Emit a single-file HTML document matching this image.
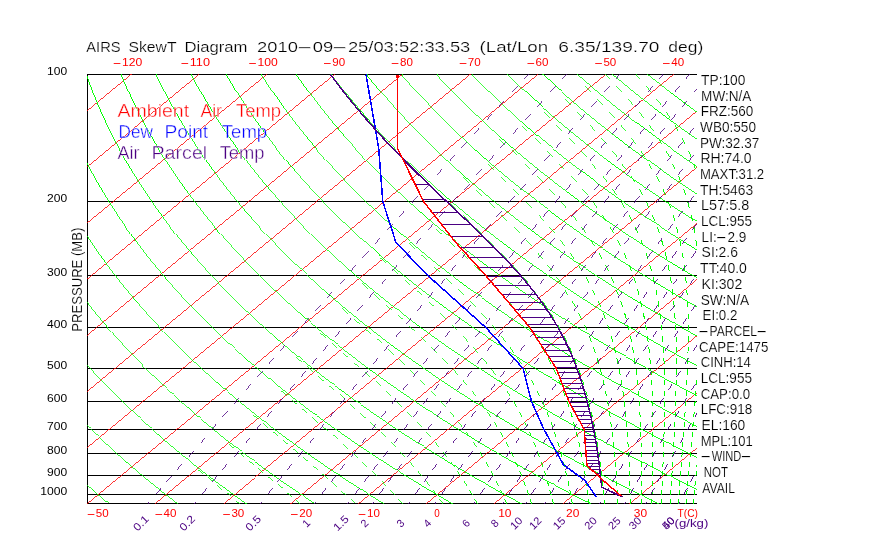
<!DOCTYPE html>
<html><head><meta charset="utf-8"><title>AIRS SkewT Diagram</title>
<style>html,body{margin:0;padding:0;background:#fff}svg{display:block;will-change:transform}</style></head>
<body>
<svg width="870" height="560" viewBox="0 0 870 560" font-family="'Liberation Sans', sans-serif">
<rect width="870" height="560" fill="#fff"/>
<defs><clipPath id="c"><rect x="87" y="74" width="610" height="430"/></clipPath></defs>
<g stroke="#000" stroke-width="1" shape-rendering="crispEdges" fill="none">
<line x1="87" y1="74.5" x2="697" y2="74.5"/>
<line x1="87" y1="201.5" x2="697" y2="201.5"/>
<line x1="87" y1="275.5" x2="697" y2="275.5"/>
<line x1="87" y1="327.5" x2="697" y2="327.5"/>
<line x1="87" y1="368.5" x2="697" y2="368.5"/>
<line x1="87" y1="401.5" x2="697" y2="401.5"/>
<line x1="87" y1="429.5" x2="697" y2="429.5"/>
<line x1="87" y1="453.5" x2="697" y2="453.5"/>
<line x1="87" y1="475.5" x2="697" y2="475.5"/>
<line x1="87" y1="494.5" x2="697" y2="494.5"/>
<line x1="87" y1="503.5" x2="697" y2="503.5"/>
<line x1="87.5" y1="74" x2="87.5" y2="504"/>
</g>
<g clip-path="url(#c)" fill="none" shape-rendering="crispEdges">
<g stroke="#f00" stroke-width="0.80">
<line x1="-457.3" y1="505.5" x2="65.6" y2="72.5"/>
<line x1="-389.5" y1="505.5" x2="133.4" y2="72.5"/>
<line x1="-321.7" y1="505.5" x2="201.2" y2="72.5"/>
<line x1="-253.9" y1="505.5" x2="269.0" y2="72.5"/>
<line x1="-186.1" y1="505.5" x2="336.8" y2="72.5"/>
<line x1="-118.3" y1="505.5" x2="404.6" y2="72.5"/>
<line x1="-50.5" y1="505.5" x2="472.4" y2="72.5"/>
<line x1="17.3" y1="505.5" x2="540.2" y2="72.5"/>
<line x1="85.1" y1="505.5" x2="608.0" y2="72.5"/>
<line x1="152.9" y1="505.5" x2="675.8" y2="72.5"/>
<line x1="220.7" y1="505.5" x2="743.6" y2="72.5"/>
<line x1="288.5" y1="505.5" x2="811.4" y2="72.5"/>
<line x1="356.3" y1="505.5" x2="879.2" y2="72.5"/>
<line x1="424.1" y1="505.5" x2="947.0" y2="72.5"/>
<line x1="491.9" y1="505.5" x2="1014.8" y2="72.5"/>
<line x1="559.7" y1="505.5" x2="1082.6" y2="72.5"/>
<line x1="627.5" y1="505.5" x2="1150.4" y2="72.5"/>
<line x1="695.3" y1="505.5" x2="1218.2" y2="72.5"/>
</g>
<g stroke="#0f0" stroke-width="1">
<path d="M110.7,505.4 L108.6,503.6 L106.5,501.9 L104.4,500.1 L102.3,498.3 L100.2,496.5 L98.1,494.7 L96.0,492.9 L93.8,491.0 L91.7,489.2" stroke="#0f0" stroke-width="0.80"/>
<path d="M93.8,491.0 L91.7,489.2 L89.5,487.3 L87.4,485.4 L85.2,483.4 L83.0,481.5 L80.8,479.5 L78.6,477.5 L76.4,475.5 L74.2,473.5 L72.0,471.4 L69.7,469.3 L67.5,467.2 L65.2,465.1 L62.9,462.9 L60.7,460.7 L58.4,458.5 L56.1,456.3 L53.7,454.0 L51.4,451.7 L49.1,449.4 L46.7,447.0 L44.4,444.6 L42.0,442.2 L39.6,439.8 L37.2,437.3 L34.8,434.8 L32.4,432.2 L30.0,429.6 L27.5,427.0 L25.1,424.3 L22.6,421.6 L20.2,418.9 L17.7,416.1 L15.2,413.3 L12.6,410.4 L10.1,407.5" stroke="#0f0" stroke-width="0.75"/>
<path d="M12.6,410.4 L10.1,407.5 L7.6,404.5 L5.0,401.5 L2.5,398.4 L-0.1,395.3 L-2.7,392.1 L-5.3,388.9 L-7.9,385.6 L-10.6,382.3 L-13.2,378.9 L-15.9,375.4 L-18.5,371.8 L-21.2,368.2 L-23.9,364.5" stroke="#0f0" stroke-width="0.80"/>
<path d="M-21.2,368.2 L-23.9,364.5 L-26.6,360.8 L-29.3,356.9 L-32.1,353.0 L-34.8,349.0 L-37.6,344.9 L-40.4,340.7 L-43.1,336.4 L-45.9,332.0 L-48.7,327.5 L-51.6,322.9 L-54.4,318.1" stroke="#0f0" stroke-width="0.85"/>
<path d="M-51.6,322.9 L-54.4,318.1 L-57.2,313.3 L-60.1,308.3 L-62.9,303.1 L-65.8,297.8 L-68.7,292.4 L-71.5,286.8 L-74.4,281.0 L-77.3,275.0 L-80.2,268.8" stroke="#0f0" stroke-width="0.90"/>
<path d="M-77.3,275.0 L-80.2,268.8 L-83.0,262.4 L-85.9,255.8 L-88.8,248.9 L-91.6,241.7 L-94.4,234.3 L-97.2,226.5 L-100.0,218.4 L-102.7,209.9 L-105.3,201.0" stroke="#0f0" stroke-width="0.95"/>
<path d="M-102.7,209.9 L-105.3,201.0 L-107.9,191.6 L-110.5,181.8 L-112.9,171.3 L-115.2,160.3 L-117.3,148.5 L-119.3,135.9 L-121.1,122.4 L-122.5,107.8 L-123.6,91.9 L-124.3,74.5 L-124.3,55.3" stroke="#0f0" stroke-width="1.00"/>
<path d="M179.6,505.4 L177.4,503.6 L175.1,501.9 L172.8,500.1 L170.5,498.3 L168.2,496.5 L165.9,494.7 L163.6,492.9 L161.2,491.0 L158.9,489.2 L156.5,487.3 L154.2,485.4 L151.8,483.4 L149.4,481.5 L147.0,479.5 L144.6,477.5 L142.2,475.5 L139.8,473.5 L137.3,471.4 L134.9,469.3 L132.4,467.2 L129.9,465.1 L127.4,462.9 L124.9,460.7" stroke="#0f0" stroke-width="0.80"/>
<path d="M127.4,462.9 L124.9,460.7 L122.4,458.5 L119.9,456.3 L117.3,454.0 L114.8,451.7 L112.2,449.4 L109.6,447.0 L107.1,444.6 L104.4,442.2 L101.8,439.8 L99.2,437.3 L96.5,434.8 L93.9,432.2 L91.2,429.6 L88.5,427.0 L85.8,424.3 L83.1,421.6 L80.4,418.9 L77.6,416.1 L74.8,413.3 L72.1,410.4 L69.3,407.5 L66.4,404.5 L63.6,401.5 L60.8,398.4 L57.9,395.3 L55.0,392.1 L52.1,388.9 L49.2,385.6 L46.3,382.3 L43.3,378.9" stroke="#0f0" stroke-width="0.75"/>
<path d="M46.3,382.3 L43.3,378.9 L40.4,375.4 L37.4,371.8 L34.4,368.2 L31.4,364.5 L28.3,360.8 L25.3,356.9 L22.2,353.0 L19.1,349.0 L16.0,344.9 L12.9,340.7 L9.8,336.4" stroke="#0f0" stroke-width="0.80"/>
<path d="M12.9,340.7 L9.8,336.4 L6.6,332.0 L3.4,327.5 L0.2,322.9 L-3.0,318.1 L-6.2,313.3 L-9.5,308.3 L-12.7,303.1 L-16.0,297.8 L-19.3,292.4" stroke="#0f0" stroke-width="0.85"/>
<path d="M-16.0,297.8 L-19.3,292.4 L-22.6,286.8 L-25.9,281.0 L-29.2,275.0 L-32.6,268.8 L-35.9,262.4 L-39.3,255.8 L-42.6,248.9 L-46.0,241.7" stroke="#0f0" stroke-width="0.90"/>
<path d="M-42.6,248.9 L-46.0,241.7 L-49.3,234.3 L-52.7,226.5 L-56.0,218.4 L-59.3,209.9 L-62.5,201.0 L-65.8,191.6 L-68.9,181.8 L-72.0,171.3" stroke="#0f0" stroke-width="0.95"/>
<path d="M-68.9,181.8 L-72.0,171.3 L-75.0,160.3 L-77.9,148.5 L-80.7,135.9 L-83.2,122.4 L-85.6,107.8 L-87.6,91.9 L-89.2,74.5 L-90.2,55.3" stroke="#0f0" stroke-width="1.00"/>
<path d="M248.6,505.4 L246.1,503.6 L243.7,501.9 L241.2,500.1 L238.7,498.3 L236.2,496.5 L233.7,494.7 L231.2,492.9 L228.7,491.0 L226.1,489.2 L223.6,487.3" stroke="#0f0" stroke-width="0.85"/>
<path d="M226.1,489.2 L223.6,487.3 L221.0,485.4 L218.4,483.4 L215.8,481.5 L213.2,479.5 L210.6,477.5 L208.0,475.5 L205.3,473.5 L202.7,471.4 L200.0,469.3 L197.3,467.2 L194.6,465.1 L191.9,462.9 L189.2,460.7 L186.5,458.5 L183.7,456.3 L181.0,454.0 L178.2,451.7 L175.4,449.4 L172.6,447.0 L169.7,444.6 L166.9,442.2 L164.0,439.8 L161.2,437.3 L158.3,434.8" stroke="#0f0" stroke-width="0.80"/>
<path d="M161.2,437.3 L158.3,434.8 L155.4,432.2 L152.4,429.6 L149.5,427.0 L146.5,424.3 L143.6,421.6 L140.6,418.9 L137.5,416.1 L134.5,413.3 L131.5,410.4 L128.4,407.5 L125.3,404.5 L122.2,401.5 L119.1,398.4 L115.9,395.3 L112.8,392.1 L109.6,388.9 L106.4,385.6 L103.1,382.3 L99.9,378.9 L96.6,375.4 L93.3,371.8 L90.0,368.2 L86.7,364.5 L83.3,360.8 L79.9,356.9 L76.5,353.0" stroke="#0f0" stroke-width="0.75"/>
<path d="M79.9,356.9 L76.5,353.0 L73.1,349.0 L69.6,344.9 L66.2,340.7 L62.7,336.4 L59.1,332.0 L55.6,327.5 L52.0,322.9 L48.4,318.1 L44.8,313.3 L41.2,308.3" stroke="#0f0" stroke-width="0.80"/>
<path d="M44.8,313.3 L41.2,308.3 L37.5,303.1 L33.8,297.8 L30.1,292.4 L26.3,286.8 L22.6,281.0 L18.8,275.0 L15.0,268.8 L11.2,262.4" stroke="#0f0" stroke-width="0.85"/>
<path d="M15.0,268.8 L11.2,262.4 L7.3,255.8 L3.5,248.9 L-0.4,241.7 L-4.2,234.3 L-8.1,226.5 L-12.0,218.4 L-15.9,209.9" stroke="#0f0" stroke-width="0.90"/>
<path d="M-12.0,218.4 L-15.9,209.9 L-19.8,201.0 L-23.6,191.6 L-27.4,181.8 L-31.2,171.3 L-34.9,160.3 L-38.5,148.5" stroke="#0f0" stroke-width="0.95"/>
<path d="M-34.9,160.3 L-38.5,148.5 L-42.0,135.9 L-45.4,122.4 L-48.6,107.8 L-51.5,91.9 L-54.1,74.5 L-56.2,55.3" stroke="#0f0" stroke-width="1.00"/>
<path d="M317.5,505.4 L314.9,503.6 L312.2,501.9 L309.6,500.1 L306.9,498.3 L304.2,496.5 L301.5,494.7 L298.8,492.9 L296.1,491.0 L293.3,489.2 L290.6,487.3 L287.8,485.4 L285.0,483.4 L282.2,481.5 L279.4,479.5 L276.6,477.5 L273.8,475.5 L270.9,473.5 L268.1,471.4 L265.2,469.3 L262.3,467.2 L259.4,465.1 L256.4,462.9" stroke="#0f0" stroke-width="0.85"/>
<path d="M259.4,465.1 L256.4,462.9 L253.5,460.7 L250.5,458.5 L247.6,456.3 L244.6,454.0 L241.6,451.7 L238.5,449.4 L235.5,447.0 L232.4,444.6 L229.3,442.2 L226.2,439.8 L223.1,437.3 L220.0,434.8 L216.8,432.2 L213.7,429.6 L210.5,427.0 L207.3,424.3 L204.0,421.6 L200.8,418.9 L197.5,416.1 L194.2,413.3 L190.9,410.4 L187.5,407.5" stroke="#0f0" stroke-width="0.80"/>
<path d="M190.9,410.4 L187.5,407.5 L184.2,404.5 L180.8,401.5 L177.4,398.4 L173.9,395.3 L170.5,392.1 L167.0,388.9 L163.5,385.6 L160.0,382.3 L156.4,378.9 L152.9,375.4 L149.2,371.8 L145.6,368.2 L142.0,364.5 L138.3,360.8 L134.6,356.9 L130.8,353.0 L127.0,349.0 L123.3,344.9 L119.4,340.7 L115.6,336.4 L111.7,332.0 L107.8,327.5 L103.8,322.9" stroke="#0f0" stroke-width="0.75"/>
<path d="M107.8,327.5 L103.8,322.9 L99.8,318.1 L95.8,313.3 L91.8,308.3 L87.7,303.1 L83.6,297.8 L79.5,292.4 L75.3,286.8 L71.1,281.0" stroke="#0f0" stroke-width="0.80"/>
<path d="M75.3,286.8 L71.1,281.0 L66.9,275.0 L62.6,268.8 L58.3,262.4 L54.0,255.8 L49.6,248.9 L45.2,241.7 L40.8,234.3" stroke="#0f0" stroke-width="0.85"/>
<path d="M45.2,241.7 L40.8,234.3 L36.4,226.5 L32.0,218.4 L27.5,209.9 L23.0,201.0 L18.6,191.6 L14.1,181.8" stroke="#0f0" stroke-width="0.90"/>
<path d="M18.6,191.6 L14.1,181.8 L9.7,171.3 L5.2,160.3 L0.9,148.5 L-3.4,135.9 L-7.6,122.4" stroke="#0f0" stroke-width="0.95"/>
<path d="M-3.4,135.9 L-7.6,122.4 L-11.6,107.8 L-15.4,91.9 L-19.0,74.5 L-22.1,55.3" stroke="#0f0" stroke-width="1.00"/>
<path d="M386.4,505.4 L383.6,503.6 L380.8,501.9 L377.9,500.1 L375.1,498.3 L372.2,496.5 L369.3,494.7 L366.4,492.9 L363.5,491.0 L360.5,489.2 L357.6,487.3 L354.6,485.4 L351.6,483.4 L348.6,481.5 L345.6,479.5 L342.6,477.5 L339.6,475.5 L336.5,473.5 L333.4,471.4 L330.3,469.3 L327.2,467.2 L324.1,465.1 L320.9,462.9 L317.8,460.7 L314.6,458.5 L311.4,456.3 L308.2,454.0 L304.9,451.7 L301.7,449.4 L298.4,447.0 L295.1,444.6 L291.8,442.2 L288.4,439.8 L285.1,437.3" stroke="#0f0" stroke-width="0.85"/>
<path d="M288.4,439.8 L285.1,437.3 L281.7,434.8 L278.3,432.2 L274.9,429.6 L271.4,427.0 L268.0,424.3 L264.5,421.6 L261.0,418.9 L257.4,416.1 L253.9,413.3 L250.3,410.4 L246.7,407.5 L243.0,404.5 L239.4,401.5 L235.7,398.4 L232.0,395.3 L228.2,392.1 L224.5,388.9 L220.7,385.6 L216.8,382.3" stroke="#0f0" stroke-width="0.80"/>
<path d="M220.7,385.6 L216.8,382.3 L213.0,378.9 L209.1,375.4 L205.2,371.8 L201.2,368.2 L197.2,364.5 L193.2,360.8 L189.2,356.9 L185.1,353.0 L181.0,349.0 L176.9,344.9 L172.7,340.7 L168.5,336.4 L164.2,332.0 L159.9,327.5 L155.6,322.9 L151.2,318.1 L146.8,313.3 L142.4,308.3 L137.9,303.1 L133.4,297.8" stroke="#0f0" stroke-width="0.75"/>
<path d="M137.9,303.1 L133.4,297.8 L128.8,292.4 L124.2,286.8 L119.6,281.0 L114.9,275.0 L110.2,268.8 L105.4,262.4 L100.6,255.8" stroke="#0f0" stroke-width="0.80"/>
<path d="M105.4,262.4 L100.6,255.8 L95.7,248.9 L90.8,241.7 L85.9,234.3 L80.9,226.5 L75.9,218.4 L70.9,209.9" stroke="#0f0" stroke-width="0.85"/>
<path d="M75.9,218.4 L70.9,209.9 L65.8,201.0 L60.7,191.6 L55.6,181.8 L50.5,171.3 L45.4,160.3" stroke="#0f0" stroke-width="0.90"/>
<path d="M50.5,171.3 L45.4,160.3 L40.3,148.5 L35.2,135.9 L30.2,122.4 L25.4,107.8 L20.6,91.9" stroke="#0f0" stroke-width="0.95"/>
<path d="M25.4,107.8 L20.6,91.9 L16.1,74.5 L11.9,55.3" stroke="#0f0" stroke-width="1.00"/>
<path d="M455.4,505.4 L452.4,503.6 L449.3,501.9 L446.3,500.1 L443.3,498.3 L440.2,496.5 L437.1,494.7 L434.0,492.9 L430.9,491.0 L427.8,489.2 L424.6,487.3 L421.4,485.4 L418.3,483.4" stroke="#0f0" stroke-width="0.90"/>
<path d="M421.4,485.4 L418.3,483.4 L415.1,481.5 L411.8,479.5 L408.6,477.5 L405.3,475.5 L402.1,473.5 L398.8,471.4 L395.5,469.3 L392.2,467.2 L388.8,465.1 L385.4,462.9 L382.1,460.7 L378.7,458.5 L375.2,456.3 L371.8,454.0 L368.3,451.7 L364.8,449.4 L361.3,447.0 L357.8,444.6 L354.2,442.2 L350.7,439.8 L347.1,437.3 L343.4,434.8 L339.8,432.2 L336.1,429.6 L332.4,427.0 L328.7,424.3 L324.9,421.6 L321.2,418.9 L317.4,416.1 L313.5,413.3" stroke="#0f0" stroke-width="0.85"/>
<path d="M317.4,416.1 L313.5,413.3 L309.7,410.4 L305.8,407.5 L301.9,404.5 L298.0,401.5 L294.0,398.4 L290.0,395.3 L286.0,392.1 L281.9,388.9 L277.8,385.6 L273.7,382.3 L269.5,378.9 L265.3,375.4 L261.1,371.8 L256.8,368.2 L252.5,364.5 L248.2,360.8 L243.8,356.9" stroke="#0f0" stroke-width="0.80"/>
<path d="M248.2,360.8 L243.8,356.9 L239.4,353.0 L235.0,349.0 L230.5,344.9 L225.9,340.7 L221.4,336.4 L216.8,332.0 L212.1,327.5 L207.4,322.9 L202.7,318.1 L197.9,313.3 L193.0,308.3 L188.1,303.1 L183.2,297.8 L178.2,292.4 L173.2,286.8 L168.1,281.0 L163.0,275.0" stroke="#0f0" stroke-width="0.75"/>
<path d="M168.1,281.0 L163.0,275.0 L157.8,268.8 L152.5,262.4 L147.2,255.8 L141.9,248.9 L136.4,241.7 L131.0,234.3" stroke="#0f0" stroke-width="0.80"/>
<path d="M136.4,241.7 L131.0,234.3 L125.5,226.5 L119.9,218.4 L114.3,209.9 L108.6,201.0 L102.9,191.6 L97.1,181.8" stroke="#0f0" stroke-width="0.85"/>
<path d="M102.9,191.6 L97.1,181.8 L91.3,171.3 L85.5,160.3 L79.7,148.5 L73.9,135.9" stroke="#0f0" stroke-width="0.90"/>
<path d="M79.7,148.5 L73.9,135.9 L68.1,122.4 L62.3,107.8 L56.7,91.9 L51.2,74.5 L46.0,55.3" stroke="#0f0" stroke-width="0.95"/>
<path d="M51.2,74.5 L46.0,55.3" stroke="#0f0" stroke-width="1.00"/>
<path d="M524.3,505.4 L521.1,503.6 L517.9,501.9 L514.7,500.1 L511.4,498.3 L508.2,496.5 L504.9,494.7 L501.6,492.9 L498.3,491.0 L495.0,489.2 L491.6,487.3 L488.2,485.4 L484.9,483.4 L481.5,481.5 L478.0,479.5 L474.6,477.5 L471.1,475.5 L467.7,473.5 L464.2,471.4 L460.6,469.3 L457.1,467.2 L453.5,465.1 L449.9,462.9 L446.3,460.7 L442.7,458.5" stroke="#0f0" stroke-width="0.90"/>
<path d="M446.3,460.7 L442.7,458.5 L439.1,456.3 L435.4,454.0 L431.7,451.7 L428.0,449.4 L424.2,447.0 L420.5,444.6 L416.7,442.2 L412.9,439.8 L409.0,437.3 L405.1,434.8 L401.3,432.2 L397.3,429.6 L393.4,427.0 L389.4,424.3 L385.4,421.6 L381.4,418.9 L377.3,416.1 L373.2,413.3 L369.1,410.4 L364.9,407.5 L360.8,404.5 L356.5,401.5 L352.3,398.4 L348.0,395.3 L343.7,392.1 L339.3,388.9" stroke="#0f0" stroke-width="0.85"/>
<path d="M343.7,392.1 L339.3,388.9 L334.9,385.6 L330.5,382.3 L326.1,378.9 L321.6,375.4 L317.0,371.8 L312.4,368.2 L307.8,364.5 L303.2,360.8 L298.5,356.9 L293.7,353.0 L288.9,349.0 L284.1,344.9 L279.2,340.7 L274.3,336.4" stroke="#0f0" stroke-width="0.80"/>
<path d="M279.2,340.7 L274.3,336.4 L269.3,332.0 L264.3,327.5 L259.2,322.9 L254.1,318.1 L248.9,313.3 L243.6,308.3 L238.3,303.1 L233.0,297.8 L227.6,292.4 L222.1,286.8 L216.6,281.0 L211.0,275.0 L205.3,268.8 L199.6,262.4 L193.8,255.8 L188.0,248.9" stroke="#0f0" stroke-width="0.75"/>
<path d="M193.8,255.8 L188.0,248.9 L182.1,241.7 L176.1,234.3 L170.0,226.5 L163.9,218.4 L157.7,209.9" stroke="#0f0" stroke-width="0.80"/>
<path d="M163.9,218.4 L157.7,209.9 L151.4,201.0 L145.1,191.6 L138.7,181.8 L132.2,171.3 L125.7,160.3" stroke="#0f0" stroke-width="0.85"/>
<path d="M132.2,171.3 L125.7,160.3 L119.1,148.5 L112.5,135.9 L105.9,122.4 L99.3,107.8" stroke="#0f0" stroke-width="0.90"/>
<path d="M105.9,122.4 L99.3,107.8 L92.7,91.9 L86.3,74.5 L80.0,55.3" stroke="#0f0" stroke-width="0.95"/>
<path d="M593.3,505.4 L589.9,503.6 L586.5,501.9 L583.1,500.1 L579.6,498.3 L576.2,496.5 L572.7,494.7 L569.2,492.9 L565.7,491.0 L562.2,489.2 L558.6,487.3 L555.1,485.4 L551.5,483.4 L547.9,481.5 L544.2,479.5 L540.6,477.5 L536.9,475.5 L533.2,473.5 L529.5,471.4 L525.8,469.3 L522.0,467.2 L518.3,465.1 L514.4,462.9 L510.6,460.7 L506.8,458.5 L502.9,456.3 L499.0,454.0 L495.1,451.7 L491.1,449.4 L487.1,447.0 L483.1,444.6 L479.1,442.2 L475.1,439.8 L471.0,437.3" stroke="#0f0" stroke-width="0.90"/>
<path d="M475.1,439.8 L471.0,437.3 L466.9,434.8 L462.7,432.2 L458.6,429.6 L454.4,427.0 L450.1,424.3 L445.9,421.6 L441.6,418.9 L437.2,416.1 L432.9,413.3 L428.5,410.4 L424.1,407.5 L419.6,404.5 L415.1,401.5 L410.6,398.4 L406.0,395.3 L401.4,392.1 L396.8,388.9 L392.1,385.6 L387.4,382.3 L382.6,378.9 L377.8,375.4 L372.9,371.8 L368.0,368.2" stroke="#0f0" stroke-width="0.85"/>
<path d="M372.9,371.8 L368.0,368.2 L363.1,364.5 L358.1,360.8 L353.1,356.9 L348.0,353.0 L342.9,349.0 L337.7,344.9 L332.5,340.7 L327.2,336.4 L321.8,332.0 L316.4,327.5 L311.0,322.9 L305.5,318.1 L299.9,313.3" stroke="#0f0" stroke-width="0.80"/>
<path d="M305.5,318.1 L299.9,313.3 L294.3,308.3 L288.6,303.1 L282.8,297.8 L277.0,292.4 L271.1,286.8 L265.1,281.0 L259.0,275.0 L252.9,268.8 L246.7,262.4 L240.5,255.8 L234.1,248.9 L227.7,241.7 L221.1,234.3 L214.5,226.5" stroke="#0f0" stroke-width="0.75"/>
<path d="M221.1,234.3 L214.5,226.5 L207.8,218.4 L201.1,209.9 L194.2,201.0 L187.2,191.6 L180.2,181.8" stroke="#0f0" stroke-width="0.80"/>
<path d="M187.2,191.6 L180.2,181.8 L173.0,171.3 L165.8,160.3 L158.5,148.5 L151.1,135.9" stroke="#0f0" stroke-width="0.85"/>
<path d="M158.5,148.5 L151.1,135.9 L143.7,122.4 L136.3,107.8 L128.8,91.9" stroke="#0f0" stroke-width="0.90"/>
<path d="M136.3,107.8 L128.8,91.9 L121.4,74.5 L114.1,55.3" stroke="#0f0" stroke-width="0.95"/>
<path d="M662.2,505.4 L658.6,503.6 L655.0,501.9 L651.4,500.1 L647.8,498.3 L644.2,496.5 L640.5,494.7 L636.8,492.9 L633.1,491.0 L629.4,489.2 L625.6,487.3 L621.9,485.4 L618.1,483.4 L614.3,481.5 L610.4,479.5 L606.6,477.5 L602.7,475.5 L598.8,473.5 L594.9,471.4 L590.9,469.3 L587.0,467.2 L583.0,465.1 L578.9,462.9 L574.9,460.7 L570.8,458.5 L566.7,456.3 L562.6,454.0 L558.5,451.7 L554.3,449.4 L550.1,447.0 L545.8,444.6 L541.6,442.2 L537.3,439.8 L532.9,437.3 L528.6,434.8 L524.2,432.2 L519.8,429.6 L515.3,427.0 L510.8,424.3 L506.3,421.6 L501.8,418.9 L497.2,416.1" stroke="#0f0" stroke-width="0.90"/>
<path d="M501.8,418.9 L497.2,416.1 L492.6,413.3 L487.9,410.4 L483.2,407.5 L478.5,404.5 L473.7,401.5 L468.9,398.4 L464.0,395.3 L459.1,392.1 L454.2,388.9 L449.2,385.6 L444.2,382.3 L439.1,378.9 L434.0,375.4 L428.9,371.8 L423.7,368.2 L418.4,364.5 L413.1,360.8 L407.7,356.9 L402.3,353.0 L396.8,349.0 L391.3,344.9" stroke="#0f0" stroke-width="0.85"/>
<path d="M396.8,349.0 L391.3,344.9 L385.7,340.7 L380.1,336.4 L374.4,332.0 L368.6,327.5 L362.8,322.9 L356.9,318.1 L350.9,313.3 L344.9,308.3 L338.8,303.1 L332.6,297.8 L326.3,292.4" stroke="#0f0" stroke-width="0.80"/>
<path d="M332.6,297.8 L326.3,292.4 L320.0,286.8 L313.6,281.0 L307.1,275.0 L300.5,268.8 L293.8,262.4 L287.1,255.8 L280.2,248.9 L273.3,241.7 L266.2,234.3 L259.1,226.5 L251.8,218.4 L244.4,209.9" stroke="#0f0" stroke-width="0.75"/>
<path d="M251.8,218.4 L244.4,209.9 L237.0,201.0 L229.4,191.6 L221.7,181.8 L213.9,171.3 L206.0,160.3" stroke="#0f0" stroke-width="0.80"/>
<path d="M213.9,171.3 L206.0,160.3 L197.9,148.5 L189.8,135.9 L181.6,122.4 L173.2,107.8" stroke="#0f0" stroke-width="0.85"/>
<path d="M181.6,122.4 L173.2,107.8 L164.9,91.9 L156.5,74.5 L148.1,55.3" stroke="#0f0" stroke-width="0.90"/>
<path d="M156.5,74.5 L148.1,55.3" stroke="#0f0" stroke-width="0.95"/>
<path d="M731.1,505.4 L727.4,503.6 L723.6,501.9 L719.8,500.1 L716.0,498.3 L712.2,496.5 L708.3,494.7" stroke="#0f0" stroke-width="0.95"/>
<path d="M712.2,496.5 L708.3,494.7 L704.4,492.9 L700.5,491.0 L696.6,489.2 L692.7,487.3 L688.7,485.4 L684.7,483.4 L680.7,481.5 L676.6,479.5 L672.6,477.5 L668.5,475.5 L664.4,473.5 L660.3,471.4 L656.1,469.3 L651.9,467.2 L647.7,465.1 L643.5,462.9 L639.2,460.7 L634.9,458.5 L630.6,456.3 L626.2,454.0 L621.8,451.7 L617.4,449.4 L613.0,447.0 L608.5,444.6 L604.0,442.2 L599.5,439.8 L594.9,437.3 L590.3,434.8 L585.7,432.2 L581.0,429.6 L576.3,427.0 L571.6,424.3 L566.8,421.6 L562.0,418.9 L557.1,416.1 L552.2,413.3 L547.3,410.4 L542.3,407.5 L537.3,404.5 L532.3,401.5 L527.2,398.4 L522.1,395.3" stroke="#0f0" stroke-width="0.90"/>
<path d="M527.2,398.4 L522.1,395.3 L516.9,392.1 L511.7,388.9 L506.4,385.6 L501.1,382.3 L495.7,378.9 L490.3,375.4 L484.8,371.8 L479.3,368.2 L473.7,364.5 L468.0,360.8 L462.4,356.9 L456.6,353.0 L450.8,349.0 L444.9,344.9 L439.0,340.7 L433.0,336.4 L426.9,332.0 L420.8,327.5 L414.6,322.9" stroke="#0f0" stroke-width="0.85"/>
<path d="M420.8,327.5 L414.6,322.9 L408.3,318.1 L401.9,313.3 L395.5,308.3 L389.0,303.1 L382.4,297.8 L375.7,292.4 L369.0,286.8 L362.1,281.0 L355.1,275.0 L348.1,268.8" stroke="#0f0" stroke-width="0.80"/>
<path d="M355.1,275.0 L348.1,268.8 L341.0,262.4 L333.7,255.8 L326.3,248.9 L318.9,241.7 L311.3,234.3 L303.6,226.5 L295.8,218.4 L287.8,209.9 L279.8,201.0 L271.6,191.6 L263.2,181.8" stroke="#0f0" stroke-width="0.75"/>
<path d="M271.6,191.6 L263.2,181.8 L254.7,171.3 L246.1,160.3 L237.3,148.5 L228.4,135.9" stroke="#0f0" stroke-width="0.80"/>
<path d="M237.3,148.5 L228.4,135.9 L219.4,122.4 L210.2,107.8 L200.9,91.9" stroke="#0f0" stroke-width="0.85"/>
<path d="M210.2,107.8 L200.9,91.9 L191.6,74.5 L182.2,55.3" stroke="#0f0" stroke-width="0.90"/>
<path d="M800.1,505.4 L796.1,503.6 L792.2,501.9 L788.2,500.1 L784.2,498.3 L780.2,496.5 L776.1,494.7 L772.0,492.9 L767.9,491.0 L763.8,489.2 L759.7,487.3 L755.5,485.4 L751.3,483.4 L747.1,481.5 L742.8,479.5 L738.6,477.5 L734.3,475.5 L730.0,473.5" stroke="#0f0" stroke-width="0.95"/>
<path d="M734.3,475.5 L730.0,473.5 L725.6,471.4 L721.2,469.3 L716.8,467.2 L712.4,465.1 L708.0,462.9 L703.5,460.7 L698.9,458.5 L694.4,456.3 L689.8,454.0 L685.2,451.7 L680.6,449.4 L675.9,447.0 L671.2,444.6 L666.5,442.2 L661.7,439.8 L656.9,437.3 L652.0,434.8 L647.1,432.2 L642.2,429.6 L637.3,427.0 L632.3,424.3 L627.3,421.6 L622.2,418.9 L617.1,416.1 L611.9,413.3 L606.7,410.4 L601.5,407.5 L596.2,404.5 L590.9,401.5 L585.5,398.4 L580.1,395.3 L574.6,392.1 L569.1,388.9 L563.5,385.6 L557.9,382.3 L552.2,378.9 L546.5,375.4" stroke="#0f0" stroke-width="0.90"/>
<path d="M552.2,378.9 L546.5,375.4 L540.7,371.8 L534.9,368.2 L529.0,364.5 L523.0,360.8 L517.0,356.9 L510.9,353.0 L504.7,349.0 L498.5,344.9 L492.2,340.7 L485.9,336.4 L479.5,332.0 L472.9,327.5 L466.4,322.9 L459.7,318.1 L453.0,313.3 L446.1,308.3 L439.2,303.1" stroke="#0f0" stroke-width="0.85"/>
<path d="M446.1,308.3 L439.2,303.1 L432.2,297.8 L425.1,292.4 L417.9,286.8 L410.6,281.0 L403.2,275.0 L395.7,268.8 L388.1,262.4 L380.3,255.8 L372.5,248.9" stroke="#0f0" stroke-width="0.80"/>
<path d="M380.3,255.8 L372.5,248.9 L364.5,241.7 L356.4,234.3 L348.1,226.5 L339.8,218.4 L331.2,209.9 L322.5,201.0 L313.7,191.6 L304.7,181.8 L295.6,171.3 L286.2,160.3" stroke="#0f0" stroke-width="0.75"/>
<path d="M295.6,171.3 L286.2,160.3 L276.7,148.5 L267.1,135.9 L257.2,122.4" stroke="#0f0" stroke-width="0.80"/>
<path d="M267.1,135.9 L257.2,122.4 L247.2,107.8 L237.0,91.9 L226.7,74.5" stroke="#0f0" stroke-width="0.85"/>
<path d="M237.0,91.9 L226.7,74.5 L216.2,55.3" stroke="#0f0" stroke-width="0.90"/>
<path d="M869.0,505.4 L864.9,503.6 L860.7,501.9 L856.6,500.1 L852.4,498.3 L848.1,496.5 L843.9,494.7 L839.6,492.9 L835.3,491.0 L831.0,489.2 L826.7,487.3 L822.3,485.4 L817.9,483.4 L813.5,481.5 L809.0,479.5 L804.6,477.5 L800.1,475.5 L795.5,473.5 L791.0,471.4 L786.4,469.3 L781.8,467.2 L777.1,465.1 L772.5,462.9 L767.7,460.7 L763.0,458.5 L758.2,456.3 L753.4,454.0" stroke="#0f0" stroke-width="0.95"/>
<path d="M758.2,456.3 L753.4,454.0 L748.6,451.7 L743.7,449.4 L738.8,447.0 L733.9,444.6 L728.9,442.2 L723.9,439.8 L718.8,437.3 L713.7,434.8 L708.6,432.2 L703.5,429.6 L698.3,427.0 L693.0,424.3 L687.7,421.6 L682.4,418.9 L677.0,416.1 L671.6,413.3 L666.1,410.4 L660.6,407.5 L655.1,404.5 L649.5,401.5 L643.8,398.4 L638.1,395.3 L632.3,392.1 L626.5,388.9 L620.7,385.6 L614.7,382.3 L608.8,378.9 L602.7,375.4 L596.6,371.8 L590.5,368.2 L584.3,364.5 L578.0,360.8 L571.6,356.9 L565.2,353.0" stroke="#0f0" stroke-width="0.90"/>
<path d="M571.6,356.9 L565.2,353.0 L558.7,349.0 L552.1,344.9 L545.5,340.7 L538.8,336.4 L532.0,332.0 L525.1,327.5 L518.2,322.9 L511.1,318.1 L504.0,313.3 L496.7,308.3 L489.4,303.1 L482.0,297.8 L474.5,292.4 L466.8,286.8 L459.1,281.0" stroke="#0f0" stroke-width="0.85"/>
<path d="M466.8,286.8 L459.1,281.0 L451.2,275.0 L443.3,268.8 L435.2,262.4 L427.0,255.8 L418.6,248.9 L410.1,241.7 L401.5,234.3 L392.7,226.5" stroke="#0f0" stroke-width="0.80"/>
<path d="M401.5,234.3 L392.7,226.5 L383.7,218.4 L374.6,209.9 L365.3,201.0 L355.9,191.6 L346.2,181.8 L336.4,171.3 L326.4,160.3 L316.2,148.5 L305.7,135.9" stroke="#0f0" stroke-width="0.75"/>
<path d="M316.2,148.5 L305.7,135.9 L295.0,122.4 L284.2,107.8 L273.1,91.9" stroke="#0f0" stroke-width="0.80"/>
<path d="M284.2,107.8 L273.1,91.9 L261.8,74.5 L250.3,55.3" stroke="#0f0" stroke-width="0.85"/>
<path d="M261.8,74.5 L250.3,55.3" stroke="#0f0" stroke-width="0.90"/>
<path d="M938.0,505.4 L933.6,503.6 L929.3,501.9 L924.9,500.1 L920.6,498.3 L916.1,496.5 L911.7,494.7 L907.2,492.9 L902.7,491.0 L898.2,489.2 L893.7,487.3 L889.1,485.4 L884.5,483.4 L879.9,481.5 L875.3,479.5 L870.6,477.5 L865.9,475.5 L861.1,473.5 L856.4,471.4 L851.5,469.3 L846.7,467.2 L841.9,465.1 L837.0,462.9 L832.0,460.7 L827.1,458.5 L822.1,456.3 L817.0,454.0 L812.0,451.7 L806.9,449.4 L801.7,447.0 L796.6,444.6 L791.3,442.2 L786.1,439.8 L780.8,437.3 L775.5,434.8" stroke="#0f0" stroke-width="0.95"/>
<path d="M780.8,437.3 L775.5,434.8 L770.1,432.2 L764.7,429.6 L759.2,427.0 L753.7,424.3 L748.2,421.6 L742.6,418.9 L737.0,416.1 L731.3,413.3 L725.5,410.4 L719.8,407.5 L713.9,404.5 L708.0,401.5 L702.1,398.4 L696.1,395.3 L690.1,392.1 L684.0,388.9 L677.8,385.6 L671.6,382.3 L665.3,378.9 L659.0,375.4 L652.6,371.8 L646.1,368.2 L639.5,364.5 L632.9,360.8 L626.3,356.9 L619.5,353.0 L612.7,349.0 L605.8,344.9 L598.8,340.7 L591.7,336.4" stroke="#0f0" stroke-width="0.90"/>
<path d="M598.8,340.7 L591.7,336.4 L584.5,332.0 L577.3,327.5 L570.0,322.9 L562.5,318.1 L555.0,313.3 L547.4,308.3 L539.6,303.1 L531.8,297.8 L523.9,292.4 L515.8,286.8 L507.6,281.0 L499.3,275.0 L490.9,268.8 L482.3,262.4" stroke="#0f0" stroke-width="0.85"/>
<path d="M490.9,268.8 L482.3,262.4 L473.6,255.8 L464.7,248.9 L455.7,241.7 L446.5,234.3 L437.2,226.5 L427.7,218.4 L418.0,209.9" stroke="#0f0" stroke-width="0.80"/>
<path d="M427.7,218.4 L418.0,209.9 L408.1,201.0 L398.0,191.6 L387.8,181.8 L377.3,171.3 L366.5,160.3 L355.6,148.5 L344.3,135.9 L332.9,122.4" stroke="#0f0" stroke-width="0.75"/>
<path d="M344.3,135.9 L332.9,122.4 L321.1,107.8 L309.1,91.9 L296.9,74.5" stroke="#0f0" stroke-width="0.80"/>
<path d="M309.1,91.9 L296.9,74.5 L284.3,55.3" stroke="#0f0" stroke-width="0.85"/>
<path d="M1006.9,505.4 L1002.4,503.6 L997.9,501.9 L993.3,500.1 L988.7,498.3 L984.1,496.5 L979.5,494.7 L974.8,492.9 L970.2,491.0 L965.4,489.2 L960.7,487.3 L955.9,485.4 L951.1,483.4 L946.3,481.5 L941.5,479.5 L936.6,477.5 L931.6,475.5 L926.7,473.5 L921.7,471.4 L916.7,469.3 L911.7,467.2 L906.6,465.1 L901.5,462.9 L896.3,460.7 L891.1,458.5 L885.9,456.3 L880.6,454.0 L875.4,451.7 L870.0,449.4 L864.6,447.0 L859.2,444.6 L853.8,442.2 L848.3,439.8 L842.8,437.3 L837.2,434.8 L831.6,432.2 L825.9,429.6 L820.2,427.0 L814.4,424.3 L808.6,421.6 L802.8,418.9 L796.9,416.1" stroke="#0f0" stroke-width="0.95"/>
<path d="M802.8,418.9 L796.9,416.1 L790.9,413.3 L784.9,410.4 L778.9,407.5 L772.8,404.5 L766.6,401.5 L760.4,398.4 L754.1,395.3 L747.8,392.1 L741.4,388.9 L735.0,385.6 L728.4,382.3 L721.9,378.9 L715.2,375.4 L708.5,371.8 L701.7,368.2 L694.8,364.5 L687.9,360.8 L680.9,356.9 L673.8,353.0 L666.6,349.0 L659.4,344.9 L652.0,340.7 L644.6,336.4 L637.1,332.0 L629.5,327.5 L621.7,322.9 L613.9,318.1" stroke="#0f0" stroke-width="0.90"/>
<path d="M621.7,322.9 L613.9,318.1 L606.0,313.3 L598.0,308.3 L589.9,303.1 L581.6,297.8 L573.2,292.4 L564.7,286.8 L556.1,281.0 L547.3,275.0 L538.4,268.8 L529.4,262.4 L520.2,255.8 L510.8,248.9 L501.3,241.7" stroke="#0f0" stroke-width="0.85"/>
<path d="M510.8,248.9 L501.3,241.7 L491.6,234.3 L481.7,226.5 L471.7,218.4 L461.4,209.9 L450.9,201.0 L440.2,191.6" stroke="#0f0" stroke-width="0.80"/>
<path d="M450.9,201.0 L440.2,191.6 L429.3,181.8 L418.1,171.3 L406.7,160.3 L395.0,148.5 L383.0,135.9 L370.7,122.4 L358.1,107.8" stroke="#0f0" stroke-width="0.75"/>
<path d="M370.7,122.4 L358.1,107.8 L345.2,91.9 L331.9,74.5 L318.4,55.3" stroke="#0f0" stroke-width="0.80"/>
<path d="M331.9,74.5 L318.4,55.3" stroke="#0f0" stroke-width="0.85"/>
<path d="M1075.8,505.4 L1071.1,503.6 L1066.4,501.9 L1061.7,500.1 L1056.9,498.3 L1052.1,496.5 L1047.3,494.7 L1042.4,492.9 L1037.6,491.0 L1032.7,489.2 L1027.7,487.3 L1022.7,485.4 L1017.7,483.4 L1012.7,481.5 L1007.7,479.5 L1002.6,477.5 L997.4,475.5 L992.3,473.5 L987.1,471.4 L981.9,469.3 L976.6,467.2 L971.3,465.1 L966.0,462.9 L960.6,460.7 L955.2,458.5 L949.7,456.3 L944.3,454.0 L938.7,451.7 L933.2,449.4 L927.6,447.0 L921.9,444.6 L916.2,442.2 L910.5,439.8 L904.7,437.3 L898.9,434.8 L893.0,432.2 L887.1,429.6 L881.2,427.0 L875.2,424.3 L869.1,421.6 L863.0,418.9 L856.8,416.1 L850.6,413.3 L844.4,410.4 L838.0,407.5 L831.6,404.5 L825.2,401.5 L818.7,398.4" stroke="#0f0" stroke-width="0.95"/>
<path d="M825.2,401.5 L818.7,398.4 L812.2,395.3 L805.5,392.1 L798.8,388.9 L792.1,385.6 L785.3,382.3 L778.4,378.9 L771.4,375.4 L764.4,371.8 L757.3,368.2 L750.1,364.5 L742.9,360.8 L735.5,356.9 L728.1,353.0 L720.6,349.0 L713.0,344.9 L705.3,340.7 L697.5,336.4 L689.6,332.0 L681.6,327.5 L673.5,322.9 L665.3,318.1 L657.0,313.3 L648.6,308.3 L640.1,303.1 L631.4,297.8" stroke="#0f0" stroke-width="0.90"/>
<path d="M640.1,303.1 L631.4,297.8 L622.6,292.4 L613.7,286.8 L604.6,281.0 L595.4,275.0 L586.0,268.8 L576.5,262.4 L566.8,255.8 L557.0,248.9 L546.9,241.7 L536.7,234.3 L526.3,226.5" stroke="#0f0" stroke-width="0.85"/>
<path d="M536.7,234.3 L526.3,226.5 L515.6,218.4 L504.8,209.9 L493.7,201.0 L482.4,191.6 L470.8,181.8 L458.9,171.3" stroke="#0f0" stroke-width="0.80"/>
<path d="M470.8,181.8 L458.9,171.3 L446.8,160.3 L434.4,148.5 L421.6,135.9 L408.5,122.4 L395.1,107.8 L381.3,91.9 L367.0,74.5" stroke="#0f0" stroke-width="0.75"/>
<path d="M381.3,91.9 L367.0,74.5 L352.4,55.3" stroke="#0f0" stroke-width="0.80"/>
<path d="M1144.8,505.4 L1139.9,503.6 L1135.0,501.9 L1130.1,500.1 L1125.1,498.3 L1120.1,496.5 L1115.1,494.7 L1110.1,492.9 L1105.0,491.0 L1099.9,489.2 L1094.7,487.3 L1089.6,485.4 L1084.4,483.4 L1079.1,481.5 L1073.9,479.5 L1068.6,477.5 L1063.2,475.5 L1057.9,473.5 L1052.4,471.4 L1047.0,469.3 L1041.5,467.2 L1036.0,465.1 L1030.5,462.9 L1024.9,460.7 L1019.2,458.5 L1013.6,456.3 L1007.9,454.0 L1002.1,451.7 L996.3,449.4 L990.5,447.0 L984.6,444.6 L978.7,442.2 L972.7,439.8 L966.7,437.3 L960.6,434.8 L954.5,432.2 L948.4,429.6 L942.1,427.0 L935.9,424.3 L929.6,421.6 L923.2,418.9 L916.8,416.1 L910.3,413.3 L903.8,410.4 L897.2,407.5 L890.5,404.5 L883.8,401.5 L877.0,398.4 L870.2,395.3 L863.3,392.1 L856.3,388.9 L849.2,385.6 L842.1,382.3" stroke="#0f0" stroke-width="0.95"/>
<path d="M849.2,385.6 L842.1,382.3 L834.9,378.9 L827.7,375.4 L820.3,371.8 L812.9,368.2 L805.4,364.5 L797.8,360.8 L790.1,356.9 L782.4,353.0 L774.5,349.0 L766.6,344.9 L758.5,340.7 L750.4,336.4 L742.2,332.0 L733.8,327.5 L725.3,322.9 L716.8,318.1 L708.1,313.3 L699.2,308.3 L690.3,303.1 L681.2,297.8 L672.0,292.4 L662.6,286.8 L653.1,281.0" stroke="#0f0" stroke-width="0.90"/>
<path d="M662.6,286.8 L653.1,281.0 L643.4,275.0 L633.6,268.8 L623.6,262.4 L613.4,255.8 L603.1,248.9 L592.5,241.7 L581.8,234.3 L570.8,226.5 L559.6,218.4 L548.2,209.9" stroke="#0f0" stroke-width="0.85"/>
<path d="M559.6,218.4 L548.2,209.9 L536.5,201.0 L524.5,191.6 L512.3,181.8 L499.8,171.3 L487.0,160.3 L473.8,148.5" stroke="#0f0" stroke-width="0.80"/>
<path d="M487.0,160.3 L473.8,148.5 L460.3,135.9 L446.4,122.4 L432.0,107.8 L417.3,91.9 L402.1,74.5 L386.5,55.3" stroke="#0f0" stroke-width="0.75"/>
<path d="M402.1,74.5 L386.5,55.3" stroke="#0f0" stroke-width="0.80"/>
<path d="M1213.7,505.4 L1208.7,503.6 L1203.6,501.9 L1198.4,500.1 L1193.3,498.3 L1188.1,496.5 L1182.9,494.7 L1177.7,492.9 L1172.4,491.0 L1167.1,489.2 L1161.7,487.3 L1156.4,485.4 L1151.0,483.4 L1145.5,481.5 L1140.1,479.5 L1134.6,477.5 L1129.0,475.5 L1123.4,473.5 L1117.8,471.4 L1112.2,469.3 L1106.5,467.2 L1100.7,465.1 L1095.0,462.9 L1089.2,460.7 L1083.3,458.5 L1077.4,456.3 L1071.5,454.0 L1065.5,451.7 L1059.5,449.4 L1053.4,447.0 L1047.3,444.6 L1041.1,442.2 L1034.9,439.8 L1028.7,437.3 L1022.3,434.8 L1016.0,432.2 L1009.6,429.6 L1003.1,427.0 L996.6,424.3 L990.0,421.6 L983.4,418.9 L976.7,416.1 L970.0,413.3 L963.2,410.4 L956.3,407.5 L949.4,404.5 L942.4,401.5 L935.3,398.4 L928.2,395.3 L921.0,392.1 L913.7,388.9 L906.4,385.6 L899.0,382.3 L891.5,378.9 L883.9,375.4 L876.3,371.8 L868.5,368.2 L860.7,364.5" stroke="#0f0" stroke-width="0.95"/>
<path d="M868.5,368.2 L860.7,364.5 L852.8,360.8 L844.8,356.9 L836.7,353.0 L828.5,349.0 L820.2,344.9 L811.8,340.7 L803.3,336.4 L794.7,332.0 L786.0,327.5 L777.1,322.9 L768.2,318.1 L759.1,313.3 L749.9,308.3 L740.5,303.1 L731.0,297.8 L721.4,292.4 L711.6,286.8 L701.6,281.0 L691.5,275.0 L681.2,268.8 L670.7,262.4" stroke="#0f0" stroke-width="0.90"/>
<path d="M681.2,268.8 L670.7,262.4 L660.1,255.8 L649.2,248.9 L638.1,241.7 L626.9,234.3 L615.3,226.5 L603.6,218.4 L591.6,209.9 L579.3,201.0 L566.7,191.6" stroke="#0f0" stroke-width="0.85"/>
<path d="M579.3,201.0 L566.7,191.6 L553.8,181.8 L540.6,171.3 L527.1,160.3 L513.2,148.5 L498.9,135.9" stroke="#0f0" stroke-width="0.80"/>
<path d="M513.2,148.5 L498.9,135.9 L484.2,122.4 L469.0,107.8 L453.4,91.9 L437.2,74.5 L420.5,55.3" stroke="#0f0" stroke-width="0.75"/>
<path d="M437.2,74.5 L420.5,55.3" stroke="#0f0" stroke-width="0.80"/>
<path d="M1282.7,505.4 L1277.4,503.6 L1272.1,501.9 L1266.8,500.1 L1261.5,498.3 L1256.1,496.5 L1250.7,494.7 L1245.3,492.9 L1239.8,491.0 L1234.3,489.2 L1228.8,487.3 L1223.2,485.4 L1217.6,483.4 L1211.9,481.5 L1206.3,479.5 L1200.5,477.5 L1194.8,475.5 L1189.0,473.5 L1183.2,471.4 L1177.3,469.3 L1171.4,467.2 L1165.5,465.1 L1159.5,462.9 L1153.4,460.7 L1147.4,458.5 L1141.2,456.3 L1135.1,454.0 L1128.9,451.7 L1122.6,449.4 L1116.3,447.0 L1110.0,444.6 L1103.6,442.2 L1097.1,439.8 L1090.6,437.3 L1084.1,434.8 L1077.5,432.2 L1070.8,429.6 L1064.1,427.0 L1057.3,424.3 L1050.5,421.6 L1043.6,418.9 L1036.7,416.1 L1029.6,413.3 L1022.6,410.4 L1015.4,407.5 L1008.2,404.5 L1001.0,401.5 L993.6,398.4 L986.2,395.3 L978.7,392.1 L971.2,388.9 L963.5,385.6 L955.8,382.3 L948.0,378.9 L940.1,375.4 L932.2,371.8 L924.1,368.2 L916.0,364.5 L907.7,360.8 L899.4,356.9 L891.0,353.0 L882.4,349.0" stroke="#0f0" stroke-width="0.95"/>
<path d="M891.0,353.0 L882.4,349.0 L873.8,344.9 L865.1,340.7 L856.2,336.4 L847.2,332.0 L838.1,327.5 L828.9,322.9 L819.6,318.1 L810.1,313.3 L800.5,308.3 L790.7,303.1 L780.8,297.8 L770.7,292.4 L760.5,286.8 L750.1,281.0 L739.5,275.0 L728.8,268.8 L717.8,262.4 L706.7,255.8 L695.3,248.9 L683.7,241.7" stroke="#0f0" stroke-width="0.90"/>
<path d="M695.3,248.9 L683.7,241.7 L671.9,234.3 L659.9,226.5 L647.5,218.4 L635.0,209.9 L622.1,201.0 L608.9,191.6 L595.4,181.8 L581.5,171.3" stroke="#0f0" stroke-width="0.85"/>
<path d="M595.4,181.8 L581.5,171.3 L567.2,160.3 L552.6,148.5 L537.5,135.9 L522.0,122.4" stroke="#0f0" stroke-width="0.80"/>
<path d="M537.5,135.9 L522.0,122.4 L506.0,107.8 L489.4,91.9 L472.3,74.5 L454.6,55.3" stroke="#0f0" stroke-width="0.75"/>
<path d="M1351.6,505.4 L1346.2,503.6 L1340.7,501.9 L1335.2,500.1 L1329.7,498.3 L1324.1,496.5 L1318.5,494.7 L1312.9,492.9 L1307.2,491.0 L1301.5,489.2 L1295.8,487.3 L1290.0,485.4 L1284.2,483.4 L1278.3,481.5 L1272.5,479.5 L1266.5,477.5 L1260.6,475.5 L1254.6,473.5 L1248.5,471.4 L1242.5,469.3 L1236.3,467.2 L1230.2,465.1 L1224.0,462.9 L1217.7,460.7 L1211.4,458.5 L1205.1,456.3 L1198.7,454.0 L1192.3,451.7 L1185.8,449.4 L1179.2,447.0 L1172.6,444.6 L1166.0,442.2 L1159.3,439.8 L1152.6,437.3 L1145.8,434.8 L1138.9,432.2 L1132.0,429.6 L1125.1,427.0 L1118.0,424.3 L1111.0,421.6 L1103.8,418.9 L1096.6,416.1 L1089.3,413.3 L1082.0,410.4 L1074.6,407.5 L1067.1,404.5 L1059.5,401.5 L1051.9,398.4 L1044.2,395.3 L1036.5,392.1 L1028.6,388.9 L1020.7,385.6 L1012.7,382.3 L1004.6,378.9 L996.4,375.4 L988.1,371.8 L979.7,368.2 L971.3,364.5 L962.7,360.8 L954.0,356.9 L945.3,353.0 L936.4,349.0 L927.4,344.9 L918.3,340.7 L909.1,336.4 L899.8,332.0" stroke="#0f0" stroke-width="0.95"/>
<path d="M909.1,336.4 L899.8,332.0 L890.3,327.5 L880.7,322.9 L871.0,318.1 L861.1,313.3 L851.1,308.3 L840.9,303.1 L830.6,297.8 L820.1,292.4 L809.5,286.8 L798.6,281.0 L787.6,275.0 L776.4,268.8 L764.9,262.4 L753.3,255.8 L741.5,248.9 L729.4,241.7 L717.0,234.3 L704.4,226.5" stroke="#0f0" stroke-width="0.90"/>
<path d="M717.0,234.3 L704.4,226.5 L691.5,218.4 L678.3,209.9 L664.9,201.0 L651.0,191.6 L636.9,181.8 L622.3,171.3 L607.4,160.3" stroke="#0f0" stroke-width="0.85"/>
<path d="M622.3,171.3 L607.4,160.3 L592.0,148.5 L576.2,135.9 L559.8,122.4 L543.0,107.8 L525.5,91.9" stroke="#0f0" stroke-width="0.80"/>
<path d="M543.0,107.8 L525.5,91.9 L507.4,74.5 L488.6,55.3" stroke="#0f0" stroke-width="0.75"/>
<path d="M1420.5,505.4 L1414.9,503.6 L1409.3,501.9 L1403.6,500.1 L1397.8,498.3" stroke="#0f0" stroke-width="1.00"/>
<path d="M1403.6,500.1 L1397.8,498.3 L1392.1,496.5 L1386.3,494.7 L1380.5,492.9 L1374.6,491.0 L1368.7,489.2 L1362.8,487.3 L1356.8,485.4 L1350.8,483.4 L1344.8,481.5 L1338.7,479.5 L1332.5,477.5 L1326.4,475.5 L1320.2,473.5 L1313.9,471.4 L1307.6,469.3 L1301.3,467.2 L1294.9,465.1 L1288.5,462.9 L1282.0,460.7 L1275.5,458.5 L1268.9,456.3 L1262.3,454.0 L1255.6,451.7 L1248.9,449.4 L1242.1,447.0 L1235.3,444.6 L1228.5,442.2 L1221.5,439.8 L1214.5,437.3 L1207.5,434.8 L1200.4,432.2 L1193.3,429.6 L1186.0,427.0 L1178.8,424.3 L1171.4,421.6 L1164.0,418.9 L1156.5,416.1 L1149.0,413.3 L1141.4,410.4 L1133.7,407.5 L1126.0,404.5 L1118.1,401.5 L1110.2,398.4 L1102.2,395.3 L1094.2,392.1 L1086.0,388.9 L1077.8,385.6 L1069.5,382.3 L1061.1,378.9 L1052.6,375.4 L1044.0,371.8 L1035.3,368.2 L1026.6,364.5 L1017.7,360.8 L1008.7,356.9 L999.6,353.0 L990.4,349.0 L981.0,344.9 L971.6,340.7 L962.0,336.4 L952.3,332.0 L942.5,327.5 L932.5,322.9 L922.4,318.1 L912.1,313.3" stroke="#0f0" stroke-width="0.95"/>
<path d="M922.4,318.1 L912.1,313.3 L901.7,308.3 L891.1,303.1 L880.4,297.8 L869.5,292.4 L858.4,286.8 L847.1,281.0 L835.6,275.0 L824.0,268.8 L812.1,262.4 L799.9,255.8 L787.6,248.9 L775.0,241.7 L762.1,234.3 L748.9,226.5 L735.5,218.4 L721.7,209.9" stroke="#0f0" stroke-width="0.90"/>
<path d="M735.5,218.4 L721.7,209.9 L707.6,201.0 L693.2,191.6 L678.4,181.8 L663.2,171.3 L647.5,160.3 L631.4,148.5 L614.8,135.9" stroke="#0f0" stroke-width="0.85"/>
<path d="M631.4,148.5 L614.8,135.9 L597.7,122.4 L579.9,107.8 L561.6,91.9 L542.5,74.5" stroke="#0f0" stroke-width="0.80"/>
<path d="M561.6,91.9 L542.5,74.5 L522.7,55.3" stroke="#0f0" stroke-width="0.75"/>
<path d="M1489.5,505.4 L1483.7,503.6 L1477.8,501.9 L1471.9,500.1 L1466.0,498.3 L1460.1,496.5 L1454.1,494.7 L1448.1,492.9 L1442.0,491.0 L1435.9,489.2 L1429.8,487.3 L1423.6,485.4 L1417.4,483.4" stroke="#0f0" stroke-width="1.00"/>
<path d="M1423.6,485.4 L1417.4,483.4 L1411.2,481.5 L1404.9,479.5 L1398.5,477.5 L1392.2,475.5 L1385.7,473.5 L1379.3,471.4 L1372.8,469.3 L1366.2,467.2 L1359.6,465.1 L1353.0,462.9 L1346.3,460.7 L1339.5,458.5 L1332.7,456.3 L1325.9,454.0 L1319.0,451.7 L1312.1,449.4 L1305.1,447.0 L1298.0,444.6 L1290.9,442.2 L1283.7,439.8 L1276.5,437.3 L1269.2,434.8 L1261.9,432.2 L1254.5,429.6 L1247.0,427.0 L1239.5,424.3 L1231.9,421.6 L1224.2,418.9 L1216.5,416.1 L1208.7,413.3 L1200.8,410.4 L1192.8,407.5 L1184.8,404.5 L1176.7,401.5 L1168.5,398.4 L1160.3,395.3 L1151.9,392.1 L1143.5,388.9 L1135.0,385.6 L1126.4,382.3 L1117.6,378.9 L1108.8,375.4 L1099.9,371.8 L1090.9,368.2 L1081.8,364.5 L1072.6,360.8 L1063.3,356.9 L1053.9,353.0 L1044.3,349.0 L1034.6,344.9 L1024.8,340.7 L1014.9,336.4 L1004.9,332.0 L994.6,327.5 L984.3,322.9 L973.8,318.1 L963.2,313.3 L952.3,308.3 L941.4,303.1 L930.2,297.8" stroke="#0f0" stroke-width="0.95"/>
<path d="M941.4,303.1 L930.2,297.8 L918.9,292.4 L907.3,286.8 L895.6,281.0 L883.7,275.0 L871.5,268.8 L859.2,262.4 L846.6,255.8 L833.7,248.9 L820.6,241.7 L807.2,234.3 L793.5,226.5 L779.5,218.4 L765.1,209.9 L750.4,201.0 L735.4,191.6" stroke="#0f0" stroke-width="0.90"/>
<path d="M750.4,201.0 L735.4,191.6 L719.9,181.8 L704.0,171.3 L687.7,160.3 L670.8,148.5 L653.5,135.9 L635.5,122.4" stroke="#0f0" stroke-width="0.85"/>
<path d="M653.5,135.9 L635.5,122.4 L616.9,107.8 L597.6,91.9 L577.6,74.5 L556.7,55.3" stroke="#0f0" stroke-width="0.80"/>
<path d="M577.6,74.5 L556.7,55.3" stroke="#0f0" stroke-width="0.75"/>
<path d="M1558.4,505.4 L1552.4,503.6 L1546.4,501.9 L1540.3,500.1 L1534.2,498.3 L1528.1,496.5 L1521.9,494.7 L1515.7,492.9 L1509.4,491.0 L1503.1,489.2 L1496.8,487.3 L1490.4,485.4 L1484.0,483.4 L1477.6,481.5 L1471.1,479.5 L1464.5,477.5 L1457.9,475.5 L1451.3,473.5 L1444.6,471.4 L1437.9,469.3 L1431.2,467.2" stroke="#0f0" stroke-width="1.00"/>
<path d="M1437.9,469.3 L1431.2,467.2 L1424.3,465.1 L1417.5,462.9 L1410.6,460.7 L1403.6,458.5 L1396.6,456.3 L1389.5,454.0 L1382.4,451.7 L1375.2,449.4 L1368.0,447.0 L1360.7,444.6 L1353.3,442.2 L1345.9,439.8 L1338.5,437.3 L1330.9,434.8 L1323.4,432.2 L1315.7,429.6 L1308.0,427.0 L1300.2,424.3 L1292.3,421.6 L1284.4,418.9 L1276.4,416.1 L1268.4,413.3 L1260.2,410.4 L1252.0,407.5 L1243.7,404.5 L1235.3,401.5 L1226.8,398.4 L1218.3,395.3 L1209.7,392.1 L1200.9,388.9 L1192.1,385.6 L1183.2,382.3 L1174.2,378.9 L1165.1,375.4 L1155.9,371.8 L1146.6,368.2 L1137.1,364.5 L1127.6,360.8 L1117.9,356.9 L1108.2,353.0 L1098.3,349.0 L1088.3,344.9 L1078.1,340.7 L1067.8,336.4 L1057.4,332.0 L1046.8,327.5 L1036.1,322.9 L1025.2,318.1 L1014.2,313.3 L1003.0,308.3 L991.6,303.1 L980.0,297.8 L968.2,292.4 L956.3,286.8 L944.1,281.0" stroke="#0f0" stroke-width="0.95"/>
<path d="M956.3,286.8 L944.1,281.0 L931.7,275.0 L919.1,268.8 L906.3,262.4 L893.2,255.8 L879.8,248.9 L866.2,241.7 L852.2,234.3 L838.0,226.5 L823.4,218.4 L808.5,209.9 L793.2,201.0 L777.5,191.6 L761.4,181.8" stroke="#0f0" stroke-width="0.90"/>
<path d="M777.5,191.6 L761.4,181.8 L744.9,171.3 L727.8,160.3 L710.2,148.5 L692.1,135.9 L673.3,122.4 L653.9,107.8" stroke="#0f0" stroke-width="0.85"/>
<path d="M673.3,122.4 L653.9,107.8 L633.7,91.9 L612.7,74.5 L590.8,55.3" stroke="#0f0" stroke-width="0.80"/>
<path d="M612.7,74.5 L590.8,55.3" stroke="#0f0" stroke-width="0.75"/>
<path d="M1627.4,505.4 L1621.2,503.6 L1614.9,501.9 L1608.7,500.1 L1602.4,498.3 L1596.1,496.5 L1589.7,494.7 L1583.3,492.9 L1576.8,491.0 L1570.4,489.2 L1563.8,487.3 L1557.3,485.4 L1550.6,483.4 L1544.0,481.5 L1537.3,479.5 L1530.5,477.5 L1523.7,475.5 L1516.9,473.5 L1510.0,471.4 L1503.1,469.3 L1496.1,467.2 L1489.1,465.1 L1482.0,462.9 L1474.8,460.7 L1467.7,458.5 L1460.4,456.3 L1453.1,454.0" stroke="#0f0" stroke-width="1.00"/>
<path d="M1460.4,456.3 L1453.1,454.0 L1445.8,451.7 L1438.4,449.4 L1430.9,447.0 L1423.4,444.6 L1415.8,442.2 L1408.1,439.8 L1400.4,437.3 L1392.7,434.8 L1384.8,432.2 L1376.9,429.6 L1369.0,427.0 L1360.9,424.3 L1352.8,421.6 L1344.6,418.9 L1336.4,416.1 L1328.0,413.3 L1319.6,410.4 L1311.1,407.5 L1302.5,404.5 L1293.9,401.5 L1285.1,398.4 L1276.3,395.3 L1267.4,392.1 L1258.4,388.9 L1249.3,385.6 L1240.0,382.3 L1230.7,378.9 L1221.3,375.4 L1211.8,371.8 L1202.2,368.2 L1192.4,364.5 L1182.6,360.8 L1172.6,356.9 L1162.5,353.0 L1152.2,349.0 L1141.9,344.9 L1131.4,340.7 L1120.7,336.4 L1109.9,332.0 L1099.0,327.5 L1087.9,322.9 L1076.6,318.1 L1065.2,313.3 L1053.6,308.3 L1041.8,303.1 L1029.8,297.8 L1017.6,292.4 L1005.2,286.8 L992.6,281.0 L979.8,275.0 L966.7,268.8" stroke="#0f0" stroke-width="0.95"/>
<path d="M979.8,275.0 L966.7,268.8 L953.4,262.4 L939.8,255.8 L925.9,248.9 L911.8,241.7 L897.3,234.3 L882.5,226.5 L867.4,218.4 L851.9,209.9 L836.0,201.0 L819.7,191.6 L802.9,181.8 L785.7,171.3 L768.0,160.3" stroke="#0f0" stroke-width="0.90"/>
<path d="M785.7,171.3 L768.0,160.3 L749.6,148.5 L730.7,135.9 L711.2,122.4 L690.9,107.8 L669.8,91.9" stroke="#0f0" stroke-width="0.85"/>
<path d="M690.9,107.8 L669.8,91.9 L647.8,74.5 L624.9,55.3" stroke="#0f0" stroke-width="0.80"/>
</g>
<g stroke="#0f0" stroke-width="1">
<path d="M355.5,504.5L350.5,499.7M346.3,495.6L341.1,490.8M336.8,486.8L331.9,482.3M327.5,478.4L322.3,473.9M317.9,469.9L312.7,465.5M394.8,495.2L390.4,490.3M386.2,485.8L381.3,480.7M377.0,476.4L371.8,471.2M367.2,466.7L362.3,462.0M357.6,457.6L352.3,452.7M347.7,448.5L342.6,444.0M337.9,439.8L332.5,435.0M413.9,466.7L409.5,461.7M405.2,457.0L400.2,451.7M395.6,447.0L390.7,442.0M385.9,437.3L380.7,432.2M375.6,427.4L370.4,422.5M365.5,418.0L360.3,413.3M355.2,408.7L350.0,404.1M344.8,399.5L339.5,394.9M334.4,390.4L328.9,385.6M313.0,371.8L307.4,366.9M302.0,362.2L296.4,357.4M430.7,437.1L426.2,432.0M421.7,427.0L416.9,421.9M412.0,416.8L406.9,411.6M401.8,406.6L396.6,401.5M391.2,396.4L385.9,391.4M380.8,386.7L375.5,381.8M370.0,376.9L364.6,372.1M359.3,367.4L353.7,362.4M348.2,357.6L342.8,352.8M337.2,347.9L331.7,343.0M325.9,337.9L320.2,332.9M445.5,406.5L440.8,401.3M436.0,396.0L430.9,390.6M425.8,385.4L420.6,380.1M415.3,374.9L409.8,369.6M404.5,364.5L399.0,359.4M393.5,354.3L387.9,349.2M382.1,344.0L376.5,339.0M371.0,334.0L365.1,328.8M359.5,323.8L353.7,318.6M347.8,313.3L342.0,308.0M457.9,374.7L453.2,369.4M448.0,363.8L442.7,358.4M437.2,352.8L431.7,347.3M426.1,341.9L420.6,336.6M414.7,331.1L409.2,326.0M403.1,320.4L397.5,315.3M391.5,309.8L385.8,304.7M379.7,299.2L373.9,293.9M367.8,288.3L361.9,283.0M478.0,352.8L473.2,347.3M468.1,341.7L463.0,336.2M457.4,330.3L451.7,324.6M445.9,318.8L440.2,313.3M434.2,307.6L428.5,302.2M422.4,296.5L416.5,291.0M410.4,285.4L404.6,280.1M398.3,274.3L392.2,268.8M385.8,262.9L379.8,257.4M486.5,318.9L481.2,313.0M475.5,307.0L469.8,301.2M464.0,295.4L458.1,289.6M451.9,283.5L445.8,277.8M439.7,272.0L433.6,266.3M427.2,260.3L421.3,254.9M414.6,248.6L408.6,243.1M502.9,295.1L497.8,289.5M491.9,283.2L486.2,277.2M480.1,271.0L474.0,265.0M467.7,258.8L461.5,252.9M455.1,246.8L449.0,241.0M442.3,234.7L436.4,229.2M518.1,271.0L512.5,264.9M506.6,258.5L500.9,252.6M494.4,245.9L488.2,239.8M481.6,233.3L475.8,227.7M469.0,221.2L463.1,215.6M456.1,209.0L450.2,203.3M531.4,245.9L526.1,240.0M519.8,233.3L514.0,227.2M507.4,220.6L501.3,214.5M494.7,208.0L488.7,202.2M481.7,195.5L476.0,190.0M469.1,183.4L463.2,177.7M543.7,220.6L538.3,214.6M531.7,207.7L526.0,201.7M519.4,195.1L513.5,189.2M506.4,182.3L500.7,176.7M493.7,169.9L488.0,164.4M554.9,195.1L549.5,189.2M542.9,182.3L537.1,176.3M530.2,169.4L524.5,163.7M517.4,156.7L511.5,150.9M504.6,144.1L498.9,138.6M576.8,182.3L571.4,176.3M565.1,169.4L559.6,163.5M553.0,156.6L547.2,150.7M540.1,143.6L534.4,137.9M527.2,130.7L521.7,125.3M586.3,156.6L581.0,150.7M574.4,143.6L569.0,137.9M562.1,130.7L556.5,125.1M549.4,117.9L543.7,112.2M595.0,130.7L589.8,125.1M583.0,117.9L577.5,112.2M570.6,105.0L564.9,99.3M614.6,117.9L609.5,112.2M603.0,105.0L597.6,99.3M590.6,91.9L585.2,86.4M633.3,105.0L628.3,99.3M621.9,91.9L616.8,86.4M609.8,79.0L604.7,73.5M597.4,66.0L592.1,60.5M640.0,79.0L635.2,73.5M628.3,66.0L623.2,60.5" stroke="#0f0" stroke-width="0.75"/>
<path d="M240.8,504.8L235.8,500.7M231.4,497.1L226.5,493.1M222.1,489.5L217.0,485.4M212.5,481.7L207.5,477.5M203.1,473.9L197.8,469.5M301.2,504.7L296.1,500.3M291.9,496.7L286.9,492.5M282.5,488.8L277.5,484.6M273.1,480.9L267.8,476.5M263.4,472.8L258.2,468.5M253.8,464.9L248.6,460.5M243.9,456.7L238.9,452.5M234.2,448.6L229.1,444.2M308.1,461.5L303.0,457.1M298.4,453.2L293.2,448.8M288.3,444.6L283.2,440.4M278.3,436.2L273.1,431.8M268.3,427.8L263.0,423.3M258.0,419.1L252.9,414.7M403.0,504.6L398.6,499.4M327.8,430.9L322.6,426.4M317.6,422.1L312.4,417.6M307.3,413.3L302.0,408.7M296.9,404.3L291.7,399.9M286.6,395.5L281.2,390.8M436.8,495.2L433.2,490.3M429.8,485.8L425.7,480.7M422.2,476.4L417.8,471.2M323.5,381.0L318.3,376.4M447.0,457.0L442.9,451.7M439.1,447.0L434.9,442.0M462.3,427.0L458.3,421.9M454.2,416.8L449.9,411.6M475.8,396.0L471.5,390.6M467.2,385.4L462.7,380.1M495.6,374.7L491.6,369.4M487.2,363.8L482.8,358.4M505.7,341.7L501.3,336.2M496.5,330.3L491.6,324.6M522.6,318.9L518.1,313.0M513.2,307.0L508.3,301.2M537.9,295.1L533.5,289.5M528.5,283.2L523.5,277.2M552.2,271.0L547.4,264.9M542.2,258.5L537.3,252.6M564.9,245.9L560.2,240.0M554.8,233.3L549.6,227.2M576.7,220.6L571.9,214.6M566.1,207.7L560.9,201.7M597.1,207.7L592.7,201.7M587.5,195.1L582.6,189.2M607.6,182.3L602.9,176.3M597.4,169.4L592.4,163.5M617.0,156.6L612.3,150.7M606.3,143.6L601.4,137.9M635.4,143.6L631.2,137.9M625.5,130.7L620.8,125.1M643.7,117.9L639.2,112.2M661.2,105.0L656.8,99.3M651.0,91.9L646.3,86.4" stroke="#0f0" stroke-width="0.80"/>
<path d="M443.5,504.6L439.9,499.4M466.9,485.8L463.7,480.7M460.9,476.4L457.3,471.2M454.2,466.7L450.5,461.7M482.8,457.0L479.5,451.7M476.5,447.0L473.1,442.0M469.7,437.1L466.0,432.0M497.2,427.0L494.0,421.9M490.7,416.8L487.2,411.6M483.6,406.5L479.7,401.3M510.1,396.0L506.7,390.6M503.2,385.4L499.5,380.1M521.4,363.8L517.8,358.4M513.9,352.8L509.9,347.3M538.4,341.7L534.8,336.2M530.9,330.3L526.8,324.6M554.2,318.9L550.5,313.0M546.5,307.0L542.4,301.2M568.6,295.1L565.1,289.5M560.9,283.2L556.7,277.2M582.2,271.0L578.3,264.9M574.0,258.5L569.8,252.6M594.5,245.9L590.7,240.0M586.1,233.3L581.7,227.2M606.0,220.6L602.0,214.6M624.7,207.7L621.1,201.7M616.7,195.1L612.6,189.2M635.1,182.3L631.2,176.3M626.5,169.4L622.2,163.5M644.6,156.6L640.6,150.7M661.7,143.6L658.1,137.9M653.2,130.7L649.2,125.1M670.2,117.9L666.3,112.2" stroke="#0f0" stroke-width="0.85"/>
<path d="M477.7,504.6L474.9,499.4M472.5,495.2L469.6,490.3M498.5,485.8L496.0,480.7M493.7,476.4L491.0,471.2M488.5,466.7L485.6,461.7M513.3,457.0L510.8,451.7M508.4,447.0L505.8,442.0M503.1,437.1L500.2,432.0M527.0,427.0L524.6,421.9M522.0,416.8L519.2,411.6M516.4,406.5L513.3,401.3M539.7,396.0L537.0,390.6M534.2,385.4L531.3,380.1M528.2,374.7L525.0,369.4M556.3,374.7L553.8,369.4M551.0,363.8L548.1,358.4M545.0,352.8L541.8,347.3M566.8,341.7L564.0,336.2M560.8,330.3L557.6,324.6M581.6,318.9L578.7,313.0M575.5,307.0L572.2,301.2M595.4,295.1L592.6,289.5M589.2,283.2L585.9,277.2M608.5,271.0L605.4,264.9M601.9,258.5L598.6,252.6M620.5,245.9L617.5,240.0M613.8,233.3L610.2,227.2M631.9,220.6L628.7,214.6M649.0,207.7L646.2,201.7M642.6,195.1L639.3,189.2M659.6,182.3L656.4,176.3M652.6,169.4L649.0,163.5M675.6,169.4L672.8,163.5M669.2,156.6L666.0,150.7M685.0,143.6L682.2,137.9M678.1,130.7L674.8,125.1" stroke="#0f0" stroke-width="0.90"/>
<path d="M506.9,504.6L504.7,499.4M502.8,495.2L500.6,490.3M531.9,504.6L530.2,499.4M528.8,495.2L527.1,490.3M525.4,485.8L523.5,480.7M521.8,476.4L519.7,471.2M517.8,466.7L515.5,461.7M546.0,476.4L544.3,471.2M542.9,466.7L541.2,461.7M539.5,457.0L537.6,451.7M535.7,447.0L533.7,442.0M531.6,437.1L529.4,432.0M556.2,437.1L554.5,432.0M552.7,427.0L550.8,421.9M548.8,416.8L546.7,411.6M544.5,406.5L542.2,401.3M568.8,406.5L567.0,401.3M565.1,396.0L563.1,390.6M560.9,385.4L558.7,380.1M584.1,385.4L582.4,380.1M580.5,374.7L578.7,369.4M576.5,363.8L574.3,358.4M571.9,352.8L569.5,347.3M595.3,352.8L593.4,347.3M591.3,341.7L589.2,336.2M586.8,330.3L584.3,324.6M609.3,330.3L607.4,324.6M605.4,318.9L603.2,313.0M600.7,307.0L598.2,301.2M622.7,307.0L620.8,301.2M618.7,295.1L616.5,289.5M614.0,283.2L611.4,277.2M635.6,283.2L633.6,277.2M631.4,271.0L629.0,264.9M626.4,258.5L623.7,252.6M647.8,258.5L645.8,252.6M643.3,245.9L641.0,240.0M638.1,233.3L635.3,227.2M659.4,233.3L657.3,227.2M654.7,220.6L652.2,214.6M674.7,220.6L672.9,214.6M670.5,207.7L668.2,201.7M665.5,195.1L662.9,189.2M685.6,195.1L683.6,189.2M681.1,182.3L678.7,176.3M700.2,182.3L698.3,176.3M696.0,169.4L693.8,163.5M691.0,156.6L688.5,150.7" stroke="#0f0" stroke-width="0.95"/>
<path d="M553.6,504.6L552.3,499.4M551.2,495.2L549.9,490.3M548.7,485.8L547.2,480.7M572.6,504.6L571.6,499.4M570.8,495.2L569.9,490.3M569.0,485.8L567.9,480.7M566.9,476.4L565.7,471.2M564.7,466.7L563.4,461.7M562.1,457.0L560.7,451.7M559.3,447.0L557.8,442.0M589.4,504.6L588.7,499.4M588.2,495.2L587.5,490.3M586.8,485.8L586.1,480.7M585.4,476.4L584.5,471.2M583.7,466.7L582.8,461.7M581.9,457.0L580.8,451.7M579.8,447.0L578.7,442.0M577.5,437.1L576.3,432.0M575.0,427.0L573.5,421.9M572.1,416.8L570.5,411.6M604.4,504.6L604.0,499.4M603.6,495.2L603.2,490.3M602.7,485.8L602.2,480.7M601.7,476.4L601.1,471.2M600.6,466.7L600.0,461.7M599.3,457.0L598.6,451.7M597.9,447.0L597.1,442.0M596.2,437.1L595.3,432.0M594.4,427.0L593.4,421.9M592.3,416.8L591.1,411.6M589.9,406.5L588.6,401.3M587.2,396.0L585.7,390.6M618.0,504.6L617.7,499.4M617.5,495.2L617.2,490.3M617.0,485.8L616.6,480.7M616.4,476.4L616.0,471.2M615.6,466.7L615.2,461.7M614.8,457.0L614.3,451.7M613.9,447.0L613.3,442.0M612.8,437.1L612.2,432.0M611.5,427.0L610.8,421.9M610.1,416.8L609.3,411.6M608.4,406.5L607.5,401.3M606.5,396.0L605.4,390.6M604.2,385.4L603.0,380.1M601.7,374.7L600.3,369.4M598.7,363.8L597.1,358.4M630.3,504.6L630.2,499.4M630.1,495.2L629.9,490.3M629.8,485.8L629.7,480.7M629.5,476.4L629.4,471.2M629.2,466.7L629.0,461.7M628.7,457.0L628.5,451.7M628.2,447.0L627.9,442.0M627.6,437.1L627.2,432.0M626.8,427.0L626.4,421.9M625.9,416.8L625.4,411.6M624.8,406.5L624.2,401.3M623.5,396.0L622.8,390.6M622.0,385.4L621.1,380.1M620.2,374.7L619.2,369.4M618.1,363.8L616.9,358.4M615.6,352.8L614.2,347.3M612.7,341.7L611.1,336.2M641.5,504.6L641.5,499.4M641.5,495.2L641.5,490.3M641.5,485.8L641.5,480.7M641.5,476.4L641.5,471.2M641.4,466.7L641.4,461.7M641.3,457.0L641.2,451.7M641.1,447.0L641.0,442.0M640.9,437.1L640.7,432.0M640.5,427.0L640.3,421.9M640.1,416.8L639.8,411.6M639.5,406.5L639.1,401.3M638.7,396.0L638.2,390.6M637.8,385.4L637.2,380.1M636.6,374.7L636.0,369.4M635.2,363.8L634.4,358.4M633.5,352.8L632.6,347.3M631.5,341.7L630.4,336.2M629.1,330.3L627.7,324.6M626.2,318.9L624.6,313.0M651.8,504.6L651.9,499.4M652.0,495.2L652.1,490.3M652.2,485.8L652.3,480.7M652.4,476.4L652.5,471.2M652.6,466.7L652.7,461.7M652.8,457.0L652.8,451.7M652.9,447.0L652.9,442.0M652.9,437.1L652.9,432.0M652.9,427.0L652.9,421.9M652.8,416.8L652.7,411.6M652.6,406.5L652.5,401.3M652.3,396.0L652.1,390.6M651.9,385.4L651.6,380.1M651.2,374.7L650.9,369.4M650.4,363.8L649.9,358.4M649.4,352.8L648.8,347.3M648.1,341.7L647.3,336.2M646.5,330.3L645.5,324.6M644.5,318.9L643.3,313.0M642.0,307.0L640.6,301.2M639.1,295.1L637.5,289.5M661.3,504.6L661.5,499.4M661.7,495.2L661.9,490.3M662.1,485.8L662.3,480.7M662.5,476.4L662.7,471.2M662.9,466.7L663.1,461.7M663.3,457.0L663.5,451.7M663.6,447.0L663.8,442.0M663.9,437.1L664.1,432.0M664.2,427.0L664.3,421.9M664.4,416.8L664.5,411.6M664.6,406.5L664.6,401.3M664.6,396.0L664.6,390.6M664.6,385.4L664.5,380.1M664.4,374.7L664.3,369.4M664.1,363.8L663.9,358.4M663.6,352.8L663.3,347.3M662.9,341.7L662.4,336.2M661.9,330.3L661.3,324.6M660.7,318.9L659.9,313.0M659.0,307.0L658.1,301.2M657.0,295.1L655.9,289.5M654.5,283.2L653.1,277.2M651.5,271.0L649.8,264.9M670.1,504.6L670.4,499.4M670.6,495.2L670.9,490.3M671.2,485.8L671.5,480.7M671.8,476.4L672.1,471.2M672.3,466.7L672.6,461.7M672.9,457.0L673.2,451.7M673.5,447.0L673.8,442.0M674.0,437.1L674.3,432.0M674.6,427.0L674.8,421.9M675.0,416.8L675.3,411.6M675.5,406.5L675.7,401.3M675.8,396.0L676.0,390.6M676.1,385.4L676.2,380.1M676.3,374.7L676.4,369.4M676.4,363.8L676.4,358.4M676.4,352.8L676.3,347.3M676.2,341.7L676.0,336.2M675.7,330.3L675.5,324.6M675.1,318.9L674.7,313.0M674.2,307.0L673.6,301.2M672.9,295.1L672.2,289.5M671.3,283.2L670.4,277.2M669.2,271.0L668.0,264.9M666.6,258.5L665.1,252.6M663.3,245.9L661.6,240.0M678.2,504.6L678.6,499.4M678.9,495.2L679.3,490.3M679.6,485.8L680.0,480.7M680.4,476.4L680.8,471.2M681.1,466.7L681.5,461.7M681.8,457.0L682.3,451.7M682.6,447.0L683.0,442.0M683.3,437.1L683.7,432.0M684.1,427.0L684.4,421.9M684.8,416.8L685.1,411.6M685.5,406.5L685.8,401.3M686.1,396.0L686.4,390.6M686.7,385.4L686.9,380.1M687.2,374.7L687.4,369.4M687.6,363.8L687.8,358.4M688.0,352.8L688.1,347.3M688.2,341.7L688.2,336.2M688.2,330.3L688.2,324.6M688.1,318.9L688.0,313.0M687.8,307.0L687.5,301.2M687.1,295.1L686.8,289.5M686.2,283.2L685.7,277.2M685.0,271.0L684.2,264.9M683.2,258.5L682.2,252.6M681.0,245.9L679.8,240.0M678.2,233.3L676.6,227.2M685.9,504.6L686.3,499.4M686.7,495.2L687.1,490.3M687.5,485.8L688.0,480.7M688.4,476.4L688.8,471.2M689.3,466.7L689.7,461.7M690.1,457.0L690.6,451.7M691.1,447.0L691.5,442.0M692.0,437.1L692.4,432.0M692.9,427.0L693.3,421.9M693.8,416.8L694.2,411.6M694.7,406.5L695.1,401.3M695.5,396.0L696.0,390.6M696.4,385.4L696.8,380.1M697.2,374.7L697.5,369.4M697.9,363.8L698.2,358.4M698.5,352.8L698.8,347.3M699.1,341.7L699.3,336.2M699.6,330.3L699.7,324.6M699.9,318.9L700.0,313.0M700.0,307.0L700.0,301.2M699.9,295.1L699.8,289.5M699.6,283.2L699.4,277.2M699.0,271.0L698.6,264.9M698.1,258.5L697.5,252.6M696.7,245.9L695.9,240.0M694.8,233.3L693.8,227.2M692.4,220.6L691.1,214.6M689.3,207.7L687.7,201.7M693.1,504.6L693.6,499.4M694.0,495.2L694.5,490.3M694.9,485.8L695.4,480.7M695.9,476.4L696.4,471.2M696.9,466.7L697.4,461.7M697.9,457.0L698.4,451.7M698.9,447.0L699.5,442.0M700.0,437.1L700.5,432.0M701.0,427.0L701.6,421.9M702.1,416.8L702.7,411.6M703.2,406.5L703.7,401.3M704.3,396.0L704.8,390.6M705.3,385.4L705.8,380.1M706.3,374.7L706.8,369.4M707.3,363.8L707.8,358.4M708.3,352.8L708.7,347.3M709.1,341.7L709.5,336.2M709.9,330.3L710.3,324.6M710.6,318.9L710.9,313.0M711.1,307.0L711.4,301.2M711.5,295.1L711.6,289.5M711.7,283.2L711.7,277.2M711.7,271.0L711.6,264.9M711.4,258.5L711.1,252.6M710.7,245.9L710.3,240.0M709.7,233.3L709.0,227.2M708.1,220.6L707.2,214.6M706.1,207.7L704.9,201.7M703.4,195.1L702.0,189.2" stroke="#0f0" stroke-width="1.00"/>
</g>
<g stroke="#4b0082" stroke-width="1">
<path d="M234.1,403.6L239.2,397.7M245.6,390.4L250.8,384.4M257.2,377.1L262.4,371.1M268.8,363.8L274.0,357.9M280.4,350.6L285.6,344.6M292.1,337.4L297.4,331.3M303.7,324.1L309.0,318.1M315.4,310.9L320.8,304.8M327.2,297.6L332.4,291.7M338.9,284.4L344.1,278.5M350.5,271.3L356.0,265.1M362.8,257.5L368.3,251.3M375.1,243.7L380.5,237.7M387.5,229.9L392.9,223.8M399.1,216.9L404.5,210.9M412.1,202.5L417.6,196.3M423.6,189.7L429.2,183.5M437.0,174.8L442.4,168.9M449.3,161.3L454.6,155.4M461.5,147.8L467.1,141.6M474.0,133.9L479.4,128.0M486.8,119.9L492.2,114.0M498.8,106.8L504.4,100.6M512.1,92.1L517.6,86.2M524.6,78.5L530.1,72.5M537.4,64.5L545.9,55.3M380.5,284.4L385.6,278.5M391.9,271.3L397.3,265.1M403.9,257.5L409.3,251.3M416.0,243.7L421.2,237.7M428.1,229.9L433.4,223.8M439.5,216.9L444.8,210.9M452.2,202.5L457.6,196.3M463.5,189.7L469.0,183.5M476.6,174.8L481.9,168.9M488.7,161.3L493.9,155.4M500.7,147.8L506.2,141.6M513.0,133.9L518.2,128.0M525.5,119.9L530.8,114.0M537.2,106.8L542.8,100.6M550.3,92.1L555.7,86.2M562.6,78.5L568.0,72.5M575.2,64.5L583.5,55.3M580.1,119.9L585.2,114.0M591.5,106.8L596.9,100.6M604.2,92.1L609.4,86.2M616.2,78.5L621.4,72.5M628.4,64.5L636.5,55.3" stroke="#4b0082" stroke-width="0.75"/>
<path d="M146.4,505.4L149.0,502.4M156.3,493.8L161.3,488.0M166.2,482.2L171.4,476.2M176.9,469.8L182.0,463.9M188.3,456.5L193.4,450.5M199.6,443.4L204.7,437.5M211.1,430.1L216.3,424.1M222.6,416.8L227.8,410.9M192.8,505.4L195.2,502.4M202.3,493.8L207.2,488.0M212.0,482.2L217.0,476.2M222.4,469.8L227.3,463.9M233.5,456.5L238.5,450.5M244.5,443.4L249.5,437.5M255.7,430.1L260.8,424.1M267.0,416.8L272.0,410.9M278.2,403.6L283.1,397.7M289.4,390.4L294.4,384.4M300.7,377.1L305.8,371.1M312.0,363.8L317.1,357.9M323.3,350.6L328.5,344.6M334.7,337.4L340.0,331.3M346.2,324.1L351.3,318.1M357.6,310.9L362.8,304.8M369.1,297.6L374.2,291.7M258.9,505.4L261.2,502.4M268.0,493.8L272.7,488.0M277.3,482.2L282.1,476.2M287.3,469.8L292.0,463.9M297.9,456.5L302.7,450.5M308.5,443.4L313.2,437.5M319.2,430.1L324.1,424.1M330.0,416.8L334.9,410.9M340.8,403.6L345.6,397.7M351.6,390.4L356.5,384.4M362.5,377.1L367.4,371.1M373.4,363.8L378.3,357.9M384.3,350.6L389.3,344.6M395.3,337.4L400.4,331.3M406.3,324.1L411.3,318.1M417.3,310.9L422.4,304.8M428.5,297.6L433.4,291.7M439.6,284.4L444.5,278.5M450.6,271.3L455.8,265.1M462.2,257.5L467.4,251.3M473.9,243.7L478.9,237.7M485.6,229.9L490.8,223.8M496.6,216.9L501.7,210.9M508.9,202.5L514.2,196.3M519.9,189.7L525.2,183.5M532.6,174.8L537.7,168.9M544.3,161.3L549.4,155.4M555.9,147.8L561.3,141.6M567.9,133.9L573.0,128.0M313.0,505.4L315.3,502.4M321.9,493.8L326.3,488.0M330.8,482.2L335.4,476.2M340.3,469.8L344.9,463.9M350.6,456.5L355.2,450.5M360.8,443.4L365.4,437.5M371.2,430.1L375.9,424.1M381.6,416.8L386.3,410.9M392.0,403.6L396.6,397.7M402.4,390.4L407.2,384.4M412.9,377.1L417.7,371.1M423.5,363.8L428.3,357.9M434.1,350.6L438.9,344.6M444.7,337.4L449.6,331.3M455.4,324.1L460.2,318.1M466.1,310.9L471.0,304.8M476.8,297.6L481.7,291.7M487.6,284.4L492.4,278.5M498.3,271.3L503.3,265.1M509.6,257.5L514.6,251.3M520.9,243.7L525.8,237.7M532.3,229.9L537.3,223.8M543.0,216.9L548.0,210.9M555.0,202.5L560.1,196.3M565.7,189.7L570.8,183.5M578.1,174.8L583.0,168.9M589.4,161.3L594.4,155.4M600.8,147.8L606.0,141.6M612.4,133.9L617.4,128.0M624.3,119.9L629.3,114.0M635.4,106.8L640.7,100.6M647.9,92.1L653.0,86.2M659.5,78.5L664.6,72.5M671.5,64.5L679.4,55.3M346.6,505.4L348.8,502.4M355.2,493.8L359.5,488.0M363.8,482.2L368.4,476.2M373.2,469.8L377.6,463.9M383.2,456.5L387.7,450.5M393.1,443.4L397.6,437.5M403.3,430.1L407.9,424.1M413.5,416.8L418.0,410.9M423.6,403.6L428.2,397.7M433.8,390.4L438.4,384.4M444.1,377.1L448.8,371.1M454.4,363.8L459.1,357.9M464.8,350.6L469.5,344.6M475.2,337.4L480.0,331.3M485.6,324.1L490.3,318.1M496.1,310.9L500.9,304.8M506.7,297.6L511.4,291.7M517.2,284.4L521.9,278.5M527.7,271.3L532.6,265.1M538.7,257.5L543.7,251.3M549.9,243.7L554.7,237.7M561.0,229.9L566.0,223.8M571.6,216.9L576.5,210.9M583.3,202.5L588.4,196.3M593.8,189.7L598.9,183.5M606.0,174.8L610.9,168.9M617.2,161.3L622.0,155.4M628.3,147.8L633.4,141.6M639.8,133.9L644.7,128.0M651.4,119.9L656.4,114.0M662.4,106.8L667.6,100.6M674.6,92.1L679.7,86.2M686.1,78.5L691.1,72.5M697.9,64.5L705.7,55.3M397.4,469.8L401.7,463.9M407.2,456.5L411.6,450.5M416.9,443.4L421.3,437.5M426.9,430.1L431.4,424.1M436.9,416.8L441.4,410.9M446.9,403.6L451.3,397.7M456.9,390.4L461.4,384.4M467.0,377.1L471.6,371.1M477.2,363.8L481.7,357.9M487.3,350.6L491.9,344.6M497.6,337.4L502.3,331.3M507.9,324.1L512.5,318.1M518.1,310.9L522.9,304.8M528.5,297.6L533.2,291.7M538.9,284.4L543.5,278.5M549.2,271.3L554.1,265.1M560.1,257.5L565.0,251.3M571.1,243.7L575.8,237.7M582.1,229.9L587.0,223.8M592.5,216.9L597.3,210.9M604.1,202.5L609.1,196.3M614.4,189.7L619.4,183.5M626.5,174.8L631.3,168.9M637.5,161.3L642.3,155.4M648.5,147.8L653.5,141.6M659.8,133.9L664.7,128.0M671.3,119.9L676.2,114.0M682.1,106.8L687.3,100.6M694.2,92.1L699.2,86.2M705.6,78.5L710.6,72.5M717.2,64.5L724.9,55.3M480.8,403.6L485.2,397.7M490.6,390.4L495.0,384.4M500.4,377.1L504.9,371.1M510.3,363.8L514.8,357.9M520.2,350.6L524.7,344.6M530.2,337.4L534.8,331.3M540.3,324.1L544.8,318.1M550.3,310.9L554.9,304.8M560.5,297.6L565.0,291.7M570.6,284.4L575.1,278.5M580.7,271.3L585.4,265.1M591.4,257.5L596.1,251.3M602.1,243.7L606.7,237.7M612.8,229.9L617.6,223.8M623.0,216.9L627.7,210.9M634.4,202.5L639.2,196.3M644.5,189.7L649.4,183.5M656.3,174.8L661.0,168.9M667.1,161.3L671.8,155.4M677.9,147.8L682.8,141.6M689.0,133.9L693.7,128.0M700.3,119.9L705.1,114.0M710.9,106.8L715.9,100.6M722.8,92.1L727.6,86.2M733.9,78.5L738.8,72.5M745.3,64.5L752.9,55.3M544.4,350.6L548.8,344.6M554.2,337.4L558.7,331.3M564.1,324.1L568.5,318.1M573.9,310.9L578.5,304.8M583.9,297.6L588.4,291.7M593.9,284.4L598.3,278.5M603.8,271.3L608.5,265.1M614.3,257.5L619.0,251.3M624.8,243.7L629.4,237.7M635.4,229.9L640.1,223.8M645.4,216.9L650.1,210.9M656.6,202.5L661.4,196.3M666.5,189.7L671.4,183.5M678.1,174.8L682.8,168.9M688.8,161.3L693.4,155.4M699.4,147.8L704.3,141.6M710.3,133.9L715.0,128.0M721.5,119.9L726.2,114.0M731.9,106.8L736.9,100.6M743.7,92.1L748.5,86.2M754.6,78.5L759.5,72.5M765.9,64.5L773.4,55.3M637.5,271.3L642.0,265.1M647.7,257.5L652.3,251.3M658.0,243.7L662.4,237.7M668.3,229.9L672.9,223.8M678.1,216.9L682.6,210.9M688.9,202.5L693.6,196.3M698.7,189.7L703.4,183.5M710.0,174.8L714.5,168.9M720.4,161.3L724.9,155.4M730.8,147.8L735.6,141.6M741.5,133.9L746.0,128.0M752.4,119.9L757.0,114.0M762.6,106.8L767.5,100.6M774.1,92.1L778.8,86.2M784.8,78.5L789.5,72.5M795.9,64.5L803.2,55.3M702.0,216.9L706.4,210.9M712.7,202.5L717.3,196.3M722.2,189.7L726.8,183.5M733.4,174.8L737.8,168.9M743.6,161.3L748.0,155.4M753.8,147.8L758.5,141.6M764.3,133.9L768.8,128.0M775.0,119.9L779.5,114.0M785.1,106.8L789.8,100.6M796.3,92.1L801.0,86.2M806.9,78.5L811.6,72.5M817.8,64.5L825.0,55.3M751.9,174.8L756.3,168.9M762.0,161.3L766.4,155.4M772.0,147.8L776.7,141.6M782.4,133.9L786.8,128.0M793.0,119.9L797.5,114.0M802.9,106.8L807.6,100.6M814.0,92.1L818.6,86.2M824.5,78.5L829.0,72.5M835.2,64.5L842.3,55.3M787.2,147.8L791.8,141.6M797.5,133.9L801.9,128.0M807.9,119.9L812.3,114.0M817.7,106.8L822.4,100.6M828.7,92.1L833.2,86.2M839.1,78.5L843.6,72.5M849.7,64.5L856.7,55.3M836.2,106.8L840.8,100.6M847.0,92.1L851.5,86.2M857.2,78.5L861.7,72.5M867.7,64.5L874.6,55.3" stroke="#4b0082" stroke-width="0.80"/>
<path d="M371.2,505.4L373.4,502.4M379.7,493.8L383.9,488.0M388.2,482.2L392.6,476.2M407.4,505.4L409.5,502.4M415.5,493.8L419.7,488.0M423.8,482.2L428.1,476.2M432.7,469.8L436.9,463.9M442.2,456.5L446.5,450.5M451.7,443.4L456.0,437.5M461.4,430.1L465.8,424.1M471.1,416.8L475.5,410.9M434.0,505.4L436.0,502.4M441.9,493.8L446.0,488.0M450.0,482.2L454.2,476.2M458.7,469.8L462.9,463.9M468.0,456.5L472.3,450.5M477.3,443.4L481.5,437.5M486.8,430.1L491.1,424.1M496.3,416.8L500.5,410.9M505.8,403.6L510.0,397.7M515.3,390.4L519.7,384.4M525.0,377.1L529.4,371.1M534.7,363.8L539.1,357.9M472.9,505.4L474.9,502.4M480.6,493.8L484.5,488.0M488.4,482.2L492.4,476.2M496.8,469.8L500.8,463.9M505.8,456.5L509.8,450.5M514.7,443.4L518.8,437.5M523.9,430.1L528.0,424.1M533.1,416.8L537.2,410.9M542.3,403.6L546.4,397.7M551.6,390.4L555.8,384.4M560.9,377.1L565.2,371.1M570.3,363.8L574.6,357.9M579.8,350.6L584.0,344.6M589.3,337.4L593.7,331.3M598.9,324.1L603.2,318.1M608.4,310.9L612.8,304.8M618.1,297.6L622.5,291.7M627.8,284.4L632.2,278.5M501.6,505.4L503.5,502.4M509.0,493.8L512.8,488.0M516.6,482.2L520.6,476.2M524.8,469.8L528.7,463.9M533.5,456.5L537.5,450.5M542.3,443.4L546.2,437.5M551.2,430.1L555.2,424.1M560.2,416.8L564.2,410.9M569.2,403.6L573.2,397.7M578.2,390.4L582.3,384.4M587.3,377.1L591.5,371.1M596.5,363.8L600.7,357.9M605.7,350.6L609.9,344.6M615.0,337.4L619.3,331.3M624.4,324.1L628.6,318.1M633.8,310.9L638.1,304.8M643.3,297.6L647.5,291.7M652.8,284.4L657.0,278.5M662.2,271.3L666.7,265.1M672.2,257.5L676.7,251.3M682.3,243.7L686.6,237.7M692.4,229.9L696.9,223.8M524.4,505.4L526.3,502.4M531.7,493.8L535.4,488.0M539.1,482.2L543.0,476.2M547.1,469.8L550.9,463.9M555.7,456.5L559.6,450.5M564.2,443.4L568.1,437.5M573.0,430.1L576.9,424.1M581.7,416.8L585.7,410.9M590.5,403.6L594.5,397.7M599.4,390.4L603.4,384.4M608.3,377.1L612.4,371.1M617.4,363.8L621.4,357.9M626.4,350.6L630.5,344.6M635.5,337.4L639.7,331.3M644.7,324.1L648.9,318.1M653.9,310.9L658.2,304.8M663.3,297.6L667.4,291.7M672.6,284.4L676.8,278.5M681.9,271.3L686.3,265.1M691.7,257.5L696.1,251.3M701.6,243.7L705.9,237.7M711.6,229.9L716.0,223.8M721.0,216.9L725.4,210.9M731.5,202.5L736.1,196.3M741.0,189.7L745.5,183.5M543.5,505.4L545.3,502.4M550.7,493.8L554.3,488.0M557.9,482.2L561.7,476.2M565.7,469.8L569.5,463.9M574.1,456.5L578.0,450.5M582.5,443.4L586.3,437.5M591.1,430.1L595.0,424.1M599.7,416.8L603.6,410.9M608.4,403.6L612.2,397.7M617.1,390.4L621.0,384.4M625.9,377.1L629.9,371.1M634.8,363.8L638.7,357.9M643.6,350.6L647.7,344.6M652.6,337.4L656.8,331.3M661.7,324.1L665.8,318.1M670.7,310.9L674.9,304.8M679.9,297.6L684.0,291.7M689.1,284.4L693.2,278.5M698.3,271.3L702.6,265.1M708.0,257.5L712.3,251.3M717.7,243.7L722.0,237.7M727.6,229.9L731.9,223.8M736.9,216.9L741.2,210.9M747.3,202.5L751.7,196.3M756.5,189.7L761.0,183.5M767.4,174.8L771.7,168.9M777.3,161.3L781.6,155.4M574.3,493.8L577.8,488.0M581.4,482.2L585.1,476.2M589.0,469.8L592.6,463.9M597.2,456.5L600.9,450.5M605.4,443.4L609.1,437.5M613.8,430.1L617.6,424.1M622.2,416.8L626.0,410.9M630.6,403.6L634.4,397.7M639.1,390.4L643.0,384.4M647.8,377.1L651.7,371.1M656.4,363.8L660.4,357.9M665.1,350.6L669.1,344.6M673.9,337.4L678.0,331.3M682.8,324.1L686.8,318.1M691.7,310.9L695.8,304.8M700.7,297.6L704.7,291.7M709.7,284.4L713.8,278.5M718.7,271.3L723.0,265.1M728.2,257.5L732.5,251.3M737.8,243.7L742.0,237.7M747.5,229.9L751.8,223.8M756.6,216.9L760.9,210.9M766.8,202.5L771.2,196.3M776.0,189.7L780.4,183.5M786.6,174.8L790.9,168.9M796.4,161.3L800.6,155.4M806.2,147.8L810.7,141.6M816.2,133.9L820.6,128.0M826.5,119.9L830.9,114.0M635.6,443.4L639.1,437.5M643.7,430.1L647.4,424.1M651.8,416.8L655.5,410.9M660.0,403.6L663.7,397.7M668.3,390.4L672.0,384.4M676.6,377.1L680.4,371.1M685.1,363.8L688.9,357.9M693.5,350.6L697.4,344.6M702.1,337.4L706.0,331.3M710.7,324.1L714.6,318.1M719.4,310.9L723.3,304.8M728.1,297.6L732.1,291.7M736.9,284.4L740.8,278.5M745.7,271.3L749.8,265.1M755.0,257.5L759.1,251.3M764.3,243.7L768.4,237.7M773.7,229.9L777.9,223.8M782.7,216.9L786.8,210.9M792.6,202.5L796.9,196.3M801.6,189.7L805.9,183.5M812.0,174.8L816.2,168.9M821.5,161.3L825.7,155.4M831.1,147.8L835.5,141.6M841.0,133.9L845.2,128.0M851.1,119.9L855.3,114.0M860.5,106.8L865.0,100.6M871.2,92.1L875.5,86.2M881.1,78.5L885.5,72.5M891.4,64.5L898.2,55.3M683.4,403.6L686.9,397.7M691.4,390.4L695.1,384.4M699.6,377.1L703.3,371.1M707.8,363.8L711.5,357.9M716.0,350.6L719.8,344.6M724.4,337.4L728.2,331.3M732.8,324.1L736.6,318.1M741.3,310.9L745.2,304.8M749.9,297.6L753.7,291.7M758.5,284.4L762.3,278.5M767.0,271.3L771.1,265.1M776.1,257.5L780.2,251.3M785.3,243.7L789.3,237.7M794.5,229.9L798.6,223.8M803.3,216.9L807.4,210.9M813.1,202.5L817.3,196.3M821.8,189.7L826.1,183.5M832.1,174.8L836.2,168.9M841.4,161.3L845.5,155.4M850.9,147.8L855.2,141.6M860.6,133.9L864.7,128.0M870.5,119.9L874.7,114.0M879.8,106.8L884.2,100.6M890.2,92.1L894.5,86.2M900.1,78.5L904.4,72.5M910.2,64.5L916.9,55.3M726.6,363.8L730.3,357.9M734.7,350.6L738.4,344.6M742.9,337.4L746.7,331.3M751.2,324.1L754.9,318.1M759.5,310.9L763.3,304.8M767.9,297.6L771.7,291.7M776.3,284.4L780.1,278.5M784.7,271.3L788.7,265.1M793.7,257.5L797.7,251.3M802.7,243.7L806.6,237.7M811.8,229.9L815.8,223.8M820.4,216.9L824.4,210.9M830.0,202.5L834.2,196.3M838.6,189.7L842.8,183.5M848.7,174.8L852.7,168.9M858.0,161.3L862.0,155.4M867.2,147.8L871.5,141.6M876.8,133.9L880.9,128.0M886.5,119.9L890.7,114.0M895.7,106.8L900.1,100.6M906.0,92.1L910.3,86.2M915.7,78.5L920.0,72.5M925.7,64.5L932.3,55.3M788.7,310.9L792.4,304.8M796.8,297.6L800.5,291.7M805.0,284.4L808.7,278.5M813.2,271.3L817.0,265.1M821.8,257.5L825.7,251.3M830.6,243.7L834.4,237.7M839.4,229.9L843.4,223.8M847.8,216.9L851.7,210.9M857.2,202.5L861.2,196.3M865.6,189.7L869.6,183.5M875.4,174.8L879.3,168.9M884.4,161.3L888.3,155.4M893.4,147.8L897.6,141.6M902.8,133.9L906.8,128.0M912.3,119.9L916.4,114.0M921.3,106.8L925.5,100.6M931.3,92.1L935.5,86.2M940.8,78.5L945.0,72.5M950.6,64.5L957.0,55.3" stroke="#4b0082" stroke-width="0.85"/>
<path d="M567.3,505.4L569.1,502.4M598.8,505.4L600.6,502.4M605.6,493.8L609.0,488.0M612.4,482.2L615.9,476.2M619.7,469.8L623.3,463.9M627.7,456.5L631.3,450.5M623.9,505.4L625.5,502.4M630.4,493.8L633.7,488.0M637.0,482.2L640.5,476.2M644.2,469.8L647.6,463.9M651.9,456.5L655.4,450.5M659.5,443.4L663.0,437.5M667.4,430.1L671.0,424.1M675.4,416.8L679.0,410.9M644.7,505.4L646.3,502.4M651.0,493.8L654.3,488.0M657.5,482.2L660.8,476.2M664.4,469.8L667.8,463.9M672.0,456.5L675.4,450.5M679.5,443.4L682.9,437.5M687.2,430.1L690.7,424.1M694.9,416.8L698.4,410.9M702.7,403.6L706.2,397.7M710.6,390.4L714.2,384.4M718.6,377.1L722.2,371.1M678.1,505.4L679.6,502.4M684.2,493.8L687.3,488.0M690.3,482.2L693.6,476.2M697.0,469.8L700.2,463.9M704.2,456.5L707.5,450.5M711.4,443.4L714.7,437.5M718.9,430.1L722.2,424.1M726.3,416.8L729.7,410.9M733.8,403.6L737.2,397.7M741.4,390.4L744.9,384.4M749.1,377.1L752.6,371.1M756.9,363.8L760.4,357.9M764.7,350.6L768.3,344.6M772.6,337.4L776.3,331.3M780.6,324.1L784.2,318.1" stroke="#4b0082" stroke-width="0.90"/>
</g>
</g>
<g fill="none" shape-rendering="crispEdges">
<g stroke="#4b0082" stroke-width="1">
<line x1="599.0" y1="476.5" x2="600.6" y2="476.5"/>
<line x1="595.7" y1="473.5" x2="600.3" y2="473.5"/>
<line x1="591.4" y1="469.5" x2="599.8" y2="469.5"/>
<line x1="588.1" y1="466.5" x2="599.4" y2="466.5"/>
<line x1="586.8" y1="463.5" x2="599.0" y2="463.5"/>
<line x1="586.5" y1="460.5" x2="598.7" y2="460.5"/>
<line x1="586.2" y1="456.5" x2="598.1" y2="456.5"/>
<line x1="586.0" y1="453.5" x2="597.7" y2="453.5"/>
<line x1="585.8" y1="450.5" x2="597.2" y2="450.5"/>
<line x1="585.5" y1="446.5" x2="596.6" y2="446.5"/>
<line x1="585.2" y1="442.5" x2="596.0" y2="442.5"/>
<line x1="585.0" y1="439.5" x2="595.4" y2="439.5"/>
<line x1="584.7" y1="435.5" x2="594.7" y2="435.5"/>
<line x1="584.4" y1="431.5" x2="594.0" y2="431.5"/>
<line x1="583.1" y1="427.5" x2="593.2" y2="427.5"/>
<line x1="580.9" y1="423.5" x2="592.4" y2="423.5"/>
<line x1="578.7" y1="419.5" x2="591.5" y2="419.5"/>
<line x1="576.5" y1="415.5" x2="590.6" y2="415.5"/>
<line x1="574.4" y1="411.5" x2="589.7" y2="411.5"/>
<line x1="571.6" y1="406.5" x2="588.4" y2="406.5"/>
<line x1="569.4" y1="402.5" x2="587.4" y2="402.5"/>
<line x1="567.4" y1="397.5" x2="586.0" y2="397.5"/>
<line x1="565.8" y1="393.5" x2="585.0" y2="393.5"/>
<line x1="563.9" y1="388.5" x2="583.5" y2="388.5"/>
<line x1="562.0" y1="383.5" x2="582.0" y2="383.5"/>
<line x1="560.1" y1="378.5" x2="580.4" y2="378.5"/>
<line x1="557.8" y1="372.5" x2="578.4" y2="372.5"/>
<line x1="555.7" y1="367.5" x2="576.6" y2="367.5"/>
<line x1="551.8" y1="361.5" x2="574.3" y2="361.5"/>
<line x1="548.5" y1="356.5" x2="572.2" y2="356.5"/>
<line x1="544.7" y1="350.5" x2="569.6" y2="350.5"/>
<line x1="540.8" y1="344.5" x2="566.8" y2="344.5"/>
<line x1="536.3" y1="337.5" x2="563.3" y2="337.5"/>
<line x1="532.4" y1="331.5" x2="560.2" y2="331.5"/>
<line x1="527.3" y1="324.5" x2="556.2" y2="324.5"/>
<line x1="521.3" y1="317.5" x2="552.0" y2="317.5"/>
<line x1="514.6" y1="309.5" x2="546.8" y2="309.5"/>
<line x1="508.6" y1="302.5" x2="541.9" y2="302.5"/>
<line x1="501.9" y1="294.5" x2="536.0" y2="294.5"/>
<line x1="494.3" y1="285.5" x2="528.9" y2="285.5"/>
<line x1="486.6" y1="276.5" x2="521.3" y2="276.5"/>
<line x1="478.5" y1="267.5" x2="513.3" y2="267.5"/>
<line x1="469.4" y1="257.5" x2="504.0" y2="257.5"/>
<line x1="460.3" y1="247.5" x2="494.3" y2="247.5"/>
<line x1="450.9" y1="236.5" x2="483.2" y2="236.5"/>
<line x1="441.6" y1="224.5" x2="470.8" y2="224.5"/>
<line x1="432.2" y1="212.5" x2="458.2" y2="212.5"/>
<line x1="422.6" y1="199.5" x2="444.5" y2="199.5"/>
<line x1="415.2" y1="184.5" x2="428.8" y2="184.5"/>
</g>
<path d="M366.0,74.5 L378.7,148.2 L382.8,201.5 L395.9,242.4 L427.8,275.5 L485.8,327.5 L523.1,368.5 L531.5,401.5 L544.0,429.5 L563.5,464.8 L585.0,480.6 L596.3,496.9" stroke="#00f" stroke-width="1.5"/>
<path d="M330.5,74.5 L332.0,76.5 L333.5,78.5 L335.0,80.5 L336.5,82.5 L338.0,84.5 L339.5,86.5 L341.1,88.5 L342.6,90.5 L344.2,92.5 L345.8,94.5 L347.3,96.5 L349.0,98.5 L350.6,100.5 L352.2,102.5 L353.8,104.5 L355.5,106.5 L357.1,108.5 L358.8,110.5 L360.5,112.5 L362.2,114.5 L363.9,116.5 L365.6,118.5 L367.4,120.5 L369.1,122.5 L370.9,124.5 L372.7,126.5 L374.4,128.5 L376.2,130.5 L378.0,132.5 L379.9,134.5 L381.7,136.5 L383.5,138.5 L385.4,140.5 L387.3,142.5 L389.1,144.5 L391.0,146.5 L392.9,148.5 L394.8,150.5 L396.8,152.5 L398.7,154.5 L400.6,156.5 L402.6,158.5 L404.5,160.5 L406.5,162.5 L408.5,164.5 L410.5,166.5 L412.5,168.5 L414.5,170.5 L416.5,172.5 L418.5,174.5 L420.6,176.5 L422.6,178.5 L424.7,180.5 L426.7,182.5 L428.8,184.5 L430.9,186.5 L432.9,188.5 L435.0,190.5 L437.1,192.5 L439.2,194.5 L441.3,196.5 L443.4,198.5 L445.5,200.5 L447.6,202.5 L449.7,204.5 L451.8,206.5 L453.9,208.5 L456.0,210.5 L458.2,212.5 L460.3,214.5 L462.4,216.5 L464.5,218.5 L466.6,220.5 L468.7,222.5 L470.8,224.5 L472.9,226.5 L474.9,228.5 L477.0,230.5 L479.1,232.5 L481.1,234.5 L483.2,236.5 L485.2,238.5 L487.3,240.5 L489.3,242.5 L491.3,244.5 L493.3,246.5 L495.3,248.5 L497.2,250.5 L499.2,252.5 L501.1,254.5 L503.0,256.5 L504.9,258.5 L506.8,260.5 L508.7,262.5 L510.6,264.5 L512.4,266.5 L514.2,268.5 L516.1,270.5 L517.8,272.5 L519.6,274.5 L521.3,276.5 L523.1,278.5 L524.8,280.5 L526.4,282.5 L528.1,284.5 L529.7,286.5 L531.3,288.5 L532.9,290.5 L534.5,292.5 L536.0,294.5 L537.5,296.5 L539.0,298.5 L540.5,300.5 L541.9,302.5 L543.3,304.5 L544.7,306.5 L546.1,308.5 L547.4,310.5 L548.8,312.5 L550.1,314.5 L551.3,316.5 L552.6,318.5 L553.8,320.5 L555.0,322.5 L556.2,324.5 L557.4,326.5 L558.5,328.5 L559.6,330.5 L560.7,332.5 L561.8,334.5 L562.8,336.5 L563.8,338.5 L564.9,340.5 L565.8,342.5 L566.8,344.5 L567.8,346.5 L568.7,348.5 L569.6,350.5 L570.5,352.5 L571.4,354.5 L572.2,356.5 L573.0,358.5 L573.8,360.5 L574.6,362.5 L575.4,364.5 L576.2,366.5 L576.9,368.5 L577.7,370.5 L578.4,372.5 L579.1,374.5 L579.8,376.5 L580.4,378.5 L581.1,380.5 L581.7,382.5 L582.3,384.5 L582.9,386.5 L583.5,388.5 L584.1,390.5 L584.7,392.5 L585.2,394.5 L585.8,396.5 L586.3,398.5 L586.8,400.5 L587.4,402.5 L587.9,404.5 L588.4,406.5 L588.9,408.5 L589.4,410.5 L589.9,412.5 L590.4,414.5 L590.9,416.5 L591.3,418.5 L591.7,420.5 L592.2,422.5 L592.6,424.5 L593.0,426.5 L593.4,428.5 L593.8,430.5 L594.2,432.5 L594.6,434.5 L594.9,436.5 L595.3,438.5 L595.6,440.5 L596.0,442.5 L596.3,444.5 L596.6,446.5 L596.9,448.5 L597.2,450.5 L597.5,452.5 L597.8,454.5 L598.1,456.5 L598.4,458.5 L598.7,460.5 L598.9,462.5 L599.2,464.5 L599.4,466.5 L599.7,468.5 L599.9,470.5 L600.1,472.5 L600.4,474.5 L600.6,476.5 L600.8,478.5 L601.0,480.5 L601.2,482.5 L601.4,484.5 L601.6,486.5 L601.7,487.2 L622.4,497.0" stroke="#4b0082" stroke-width="1.5"/>
<path d="M397.4,74.5 L397.4,148.2 L423.6,201.5 L455.0,241.7 L485.8,275.5 L529.8,327.5 L556.3,368.5 L568.9,401.5 L584.2,429.5 L586.9,465.4 L603.3,480.5 L621.6,496.4" stroke="#f00" stroke-width="1.5"/>
<rect x="396" y="75" width="3" height="3" fill="#f00"/>
</g>
<text y="51.5" font-size="15.4" fill="#000" stroke="#fff" stroke-width="0.23"><tspan x="86.3" textLength="34.3" lengthAdjust="spacingAndGlyphs">AIRS</tspan> <tspan x="128.5" textLength="47.7" lengthAdjust="spacingAndGlyphs">SkewT</tspan> <tspan x="184.4" textLength="63.1" lengthAdjust="spacingAndGlyphs">Diagram</tspan> <tspan x="257.1" textLength="40.8" lengthAdjust="spacingAndGlyphs">2010</tspan><tspan x="296.2" textLength="16.8" lengthAdjust="spacingAndGlyphs">-</tspan><tspan x="312.7" textLength="20.4" lengthAdjust="spacingAndGlyphs">09</tspan><tspan x="331.4" textLength="16.8" lengthAdjust="spacingAndGlyphs">-</tspan><tspan x="347.9" textLength="122.4" lengthAdjust="spacingAndGlyphs">25/03:52:33.53</tspan> <tspan x="479.5" textLength="68.7" lengthAdjust="spacingAndGlyphs">(Lat/Lon</tspan> <tspan x="558.3" textLength="101.2" lengthAdjust="spacingAndGlyphs">6.35/139.70</tspan> <tspan x="668.3" textLength="34.9" lengthAdjust="spacingAndGlyphs">deg)</tspan></text>
<text y="116.6" font-size="18.8" fill="#f00" stroke="#fff" stroke-width="0.40"><tspan x="117.4" textLength="71.8" lengthAdjust="spacingAndGlyphs">Ambient</tspan> <tspan x="200.4" textLength="21.6" lengthAdjust="spacingAndGlyphs">Air</tspan> <tspan x="236.0" textLength="45.0" lengthAdjust="spacingAndGlyphs">Temp</tspan></text>
<text y="137.6" font-size="18.8" fill="#00f" stroke="#fff" stroke-width="0.40"><tspan x="118.5" textLength="34.3" lengthAdjust="spacingAndGlyphs">Dew</tspan> <tspan x="164.4" textLength="43.8" lengthAdjust="spacingAndGlyphs">Point</tspan> <tspan x="221.8" textLength="45.4" lengthAdjust="spacingAndGlyphs">Temp</tspan></text>
<text y="159.4" font-size="18.8" fill="#4b0082" stroke="#fff" stroke-width="0.40"><tspan x="117.4" textLength="22.1" lengthAdjust="spacingAndGlyphs">Air</tspan> <tspan x="151.5" textLength="55.7" lengthAdjust="spacingAndGlyphs">Parcel</tspan> <tspan x="219.7" textLength="44.9" lengthAdjust="spacingAndGlyphs">Temp</tspan></text>
<text y="75.0" font-size="11.2" fill="#000"><tspan x="47.1" textLength="20.1" lengthAdjust="spacingAndGlyphs">100</tspan></text>
<text y="202.0" font-size="11.2" fill="#000"><tspan x="47.1" textLength="20.1" lengthAdjust="spacingAndGlyphs">200</tspan></text>
<text y="276.0" font-size="11.2" fill="#000"><tspan x="47.1" textLength="20.1" lengthAdjust="spacingAndGlyphs">300</tspan></text>
<text y="328.0" font-size="11.2" fill="#000"><tspan x="47.1" textLength="20.1" lengthAdjust="spacingAndGlyphs">400</tspan></text>
<text y="369.0" font-size="11.2" fill="#000"><tspan x="47.1" textLength="20.1" lengthAdjust="spacingAndGlyphs">500</tspan></text>
<text y="402.0" font-size="11.2" fill="#000"><tspan x="47.1" textLength="20.1" lengthAdjust="spacingAndGlyphs">600</tspan></text>
<text y="430.0" font-size="11.2" fill="#000"><tspan x="47.1" textLength="20.1" lengthAdjust="spacingAndGlyphs">700</tspan></text>
<text y="454.0" font-size="11.2" fill="#000"><tspan x="47.1" textLength="20.1" lengthAdjust="spacingAndGlyphs">800</tspan></text>
<text y="476.0" font-size="11.2" fill="#000"><tspan x="47.1" textLength="20.1" lengthAdjust="spacingAndGlyphs">900</tspan></text>
<text y="495.0" font-size="11.2" fill="#000"><tspan x="40.2" textLength="27.0" lengthAdjust="spacingAndGlyphs">1000</tspan></text>
<text transform="translate(82.2,331.7) rotate(-90)" font-size="14" stroke="#fff" stroke-width="0.16" textLength="104" lengthAdjust="spacingAndGlyphs">PRESSURE (MB)</text>
<text y="66.0" font-size="11.2" fill="#f00"><tspan x="112.5" textLength="9.1" lengthAdjust="spacingAndGlyphs">-</tspan><tspan x="121.9" textLength="20.3" lengthAdjust="spacingAndGlyphs">120</tspan></text>
<text y="66.0" font-size="11.2" fill="#f00"><tspan x="180.3" textLength="9.1" lengthAdjust="spacingAndGlyphs">-</tspan><tspan x="189.7" textLength="20.3" lengthAdjust="spacingAndGlyphs">110</tspan></text>
<text y="66.0" font-size="11.2" fill="#f00"><tspan x="248.1" textLength="9.1" lengthAdjust="spacingAndGlyphs">-</tspan><tspan x="257.5" textLength="20.3" lengthAdjust="spacingAndGlyphs">100</tspan></text>
<text y="66.0" font-size="11.2" fill="#f00"><tspan x="322.8" textLength="9.1" lengthAdjust="spacingAndGlyphs">-</tspan><tspan x="332.2" textLength="12.9" lengthAdjust="spacingAndGlyphs">90</tspan></text>
<text y="66.0" font-size="11.2" fill="#f00"><tspan x="390.6" textLength="9.1" lengthAdjust="spacingAndGlyphs">-</tspan><tspan x="400.0" textLength="12.9" lengthAdjust="spacingAndGlyphs">80</tspan></text>
<text y="66.0" font-size="11.2" fill="#f00"><tspan x="458.4" textLength="9.1" lengthAdjust="spacingAndGlyphs">-</tspan><tspan x="467.8" textLength="12.9" lengthAdjust="spacingAndGlyphs">70</tspan></text>
<text y="66.0" font-size="11.2" fill="#f00"><tspan x="526.2" textLength="9.1" lengthAdjust="spacingAndGlyphs">-</tspan><tspan x="535.6" textLength="12.9" lengthAdjust="spacingAndGlyphs">60</tspan></text>
<text y="66.0" font-size="11.2" fill="#f00"><tspan x="594.0" textLength="9.1" lengthAdjust="spacingAndGlyphs">-</tspan><tspan x="603.4" textLength="12.9" lengthAdjust="spacingAndGlyphs">50</tspan></text>
<text y="66.0" font-size="11.2" fill="#f00"><tspan x="661.8" textLength="9.1" lengthAdjust="spacingAndGlyphs">-</tspan><tspan x="671.2" textLength="12.9" lengthAdjust="spacingAndGlyphs">40</tspan></text>
<text y="517.0" font-size="11.2" fill="#f00"><tspan x="86.4" textLength="9.1" lengthAdjust="spacingAndGlyphs">-</tspan><tspan x="95.8" textLength="12.9" lengthAdjust="spacingAndGlyphs">50</tspan></text>
<text y="517.0" font-size="11.2" fill="#f00"><tspan x="154.2" textLength="9.1" lengthAdjust="spacingAndGlyphs">-</tspan><tspan x="163.6" textLength="12.9" lengthAdjust="spacingAndGlyphs">40</tspan></text>
<text y="517.0" font-size="11.2" fill="#f00"><tspan x="222.0" textLength="9.1" lengthAdjust="spacingAndGlyphs">-</tspan><tspan x="231.4" textLength="12.9" lengthAdjust="spacingAndGlyphs">30</tspan></text>
<text y="517.0" font-size="11.2" fill="#f00"><tspan x="289.8" textLength="9.1" lengthAdjust="spacingAndGlyphs">-</tspan><tspan x="299.2" textLength="12.9" lengthAdjust="spacingAndGlyphs">20</tspan></text>
<text y="517.0" font-size="11.2" fill="#f00"><tspan x="357.6" textLength="9.1" lengthAdjust="spacingAndGlyphs">-</tspan><tspan x="367.0" textLength="12.9" lengthAdjust="spacingAndGlyphs">10</tspan></text>
<text y="517.0" font-size="11.2" fill="#f00"><tspan x="434.2" textLength="5.5" lengthAdjust="spacingAndGlyphs">0</tspan></text>
<text y="517.0" font-size="11.2" fill="#f00"><tspan x="498.2" textLength="13.3" lengthAdjust="spacingAndGlyphs">10</tspan></text>
<text y="517.0" font-size="11.2" fill="#f00"><tspan x="566.0" textLength="13.3" lengthAdjust="spacingAndGlyphs">20</tspan></text>
<text y="517.0" font-size="11.2" fill="#f00"><tspan x="633.8" textLength="13.3" lengthAdjust="spacingAndGlyphs">30</tspan></text>
<text y="517.0" font-size="11.2" fill="#f00"><tspan x="677.5" textLength="20.5" lengthAdjust="spacingAndGlyphs">T(C)</tspan></text>
<text transform="translate(140.8,523) rotate(-45)" font-size="10.8" fill="#4b0082" text-anchor="middle" dy="3.9" textLength="17.0" lengthAdjust="spacingAndGlyphs">0.1</text>
<text transform="translate(187.0,523) rotate(-45)" font-size="10.8" fill="#4b0082" text-anchor="middle" dy="3.9" textLength="17.0" lengthAdjust="spacingAndGlyphs">0.2</text>
<text transform="translate(253.1,523) rotate(-45)" font-size="10.8" fill="#4b0082" text-anchor="middle" dy="3.9" textLength="17.0" lengthAdjust="spacingAndGlyphs">0.5</text>
<text transform="translate(306.2,523) rotate(-45)" font-size="10.8" fill="#4b0082" text-anchor="middle" dy="3.9" textLength="6.0" lengthAdjust="spacingAndGlyphs">1</text>
<text transform="translate(340.7,523) rotate(-45)" font-size="10.8" fill="#4b0082" text-anchor="middle" dy="3.9" textLength="17.0" lengthAdjust="spacingAndGlyphs">1.5</text>
<text transform="translate(364.4,523) rotate(-45)" font-size="10.8" fill="#4b0082" text-anchor="middle" dy="3.9" textLength="6.0" lengthAdjust="spacingAndGlyphs">2</text>
<text transform="translate(400.4,523) rotate(-45)" font-size="10.8" fill="#4b0082" text-anchor="middle" dy="3.9" textLength="6.0" lengthAdjust="spacingAndGlyphs">3</text>
<text transform="translate(427.0,523) rotate(-45)" font-size="10.8" fill="#4b0082" text-anchor="middle" dy="3.9" textLength="6.0" lengthAdjust="spacingAndGlyphs">4</text>
<text transform="translate(465.9,523) rotate(-45)" font-size="10.8" fill="#4b0082" text-anchor="middle" dy="3.9" textLength="6.0" lengthAdjust="spacingAndGlyphs">6</text>
<text transform="translate(494.5,523) rotate(-45)" font-size="10.8" fill="#4b0082" text-anchor="middle" dy="3.9" textLength="6.0" lengthAdjust="spacingAndGlyphs">8</text>
<text transform="translate(516.1,523) rotate(-45)" font-size="10.8" fill="#4b0082" text-anchor="middle" dy="3.9" textLength="12.6" lengthAdjust="spacingAndGlyphs">10</text>
<text transform="translate(535.1,523) rotate(-45)" font-size="10.8" fill="#4b0082" text-anchor="middle" dy="3.9" textLength="12.6" lengthAdjust="spacingAndGlyphs">12</text>
<text transform="translate(558.9,523) rotate(-45)" font-size="10.8" fill="#4b0082" text-anchor="middle" dy="3.9" textLength="12.6" lengthAdjust="spacingAndGlyphs">15</text>
<text transform="translate(590.4,523) rotate(-45)" font-size="10.8" fill="#4b0082" text-anchor="middle" dy="3.9" textLength="12.6" lengthAdjust="spacingAndGlyphs">20</text>
<text transform="translate(614.2,523) rotate(-45)" font-size="10.8" fill="#4b0082" text-anchor="middle" dy="3.9" textLength="12.6" lengthAdjust="spacingAndGlyphs">25</text>
<text transform="translate(635.0,523) rotate(-45)" font-size="10.8" fill="#4b0082" text-anchor="middle" dy="3.9" textLength="12.6" lengthAdjust="spacingAndGlyphs">30</text>
<text transform="translate(668.3,523) rotate(-45)" font-size="10.8" fill="#4b0082" text-anchor="middle" dy="3.9" textLength="12.6" lengthAdjust="spacingAndGlyphs">40</text>
<text transform="translate(668.3,523) rotate(-45)" font-size="10.8" fill="#4b0082" text-anchor="middle" dy="3.9" textLength="12.6" lengthAdjust="spacingAndGlyphs">50</text>
<text y="526.5" font-size="11.2" fill="#4b0082"><tspan x="674.5" textLength="33.8" lengthAdjust="spacingAndGlyphs">(g/kg)</tspan></text>
<text y="84.8" font-size="14" fill="#000" stroke="#fff" stroke-width="0.16"><tspan x="701.1" textLength="44.3" lengthAdjust="spacingAndGlyphs">TP:100</tspan></text>
<text y="100.5" font-size="14" fill="#000" stroke="#fff" stroke-width="0.16"><tspan x="701.1" textLength="50.2" lengthAdjust="spacingAndGlyphs">MW:N/A</tspan></text>
<text y="116.2" font-size="14" fill="#000" stroke="#fff" stroke-width="0.16"><tspan x="700.7" textLength="52.5" lengthAdjust="spacingAndGlyphs">FRZ:560</tspan></text>
<text y="131.9" font-size="14" fill="#000" stroke="#fff" stroke-width="0.16"><tspan x="700.1" textLength="55.9" lengthAdjust="spacingAndGlyphs">WB0:550</tspan></text>
<text y="147.6" font-size="14" fill="#000" stroke="#fff" stroke-width="0.16"><tspan x="699.9" textLength="59.4" lengthAdjust="spacingAndGlyphs">PW:32.37</tspan></text>
<text y="163.3" font-size="14" fill="#000" stroke="#fff" stroke-width="0.16"><tspan x="700.4" textLength="51.2" lengthAdjust="spacingAndGlyphs">RH:74.0</tspan></text>
<text y="179.0" font-size="14" fill="#000" stroke="#fff" stroke-width="0.16"><tspan x="699.9" textLength="64.3" lengthAdjust="spacingAndGlyphs">MAXT:31.2</tspan></text>
<text y="194.7" font-size="14" fill="#000" stroke="#fff" stroke-width="0.16"><tspan x="700.1" textLength="53.1" lengthAdjust="spacingAndGlyphs">TH:5463</tspan></text>
<text y="210.4" font-size="14" fill="#000" stroke="#fff" stroke-width="0.16"><tspan x="701.1" textLength="48.1" lengthAdjust="spacingAndGlyphs">L57:5.8</tspan></text>
<text y="226.1" font-size="14" fill="#000" stroke="#fff" stroke-width="0.16"><tspan x="701.1" textLength="50.9" lengthAdjust="spacingAndGlyphs">LCL:955</tspan></text>
<text y="241.8" font-size="14" fill="#000" stroke="#fff" stroke-width="0.16"><tspan x="701.6" textLength="15.1" lengthAdjust="spacingAndGlyphs">LI:</tspan><tspan x="715.6" textLength="11.4" lengthAdjust="spacingAndGlyphs">-</tspan><tspan x="727.4" textLength="18.9" lengthAdjust="spacingAndGlyphs">2.9</tspan></text>
<text y="257.4" font-size="14" fill="#000" stroke="#fff" stroke-width="0.16"><tspan x="701.6" textLength="36.4" lengthAdjust="spacingAndGlyphs">SI:2.6</tspan></text>
<text y="273.1" font-size="14" fill="#000" stroke="#fff" stroke-width="0.16"><tspan x="700.1" textLength="46.8" lengthAdjust="spacingAndGlyphs">TT:40.0</tspan></text>
<text y="288.8" font-size="14" fill="#000" stroke="#fff" stroke-width="0.16"><tspan x="701.6" textLength="40.6" lengthAdjust="spacingAndGlyphs">KI:302</tspan></text>
<text y="304.5" font-size="14" fill="#000" stroke="#fff" stroke-width="0.16"><tspan x="700.7" textLength="48.5" lengthAdjust="spacingAndGlyphs">SW:N/A</tspan></text>
<text y="320.2" font-size="14" fill="#000" stroke="#fff" stroke-width="0.16"><tspan x="702.6" textLength="34.8" lengthAdjust="spacingAndGlyphs">EI:0.2</tspan></text>
<text y="335.9" font-size="14" fill="#000" stroke="#fff" stroke-width="0.16"><tspan x="697.8" textLength="11.4" lengthAdjust="spacingAndGlyphs">-</tspan><tspan x="709.5" textLength="47.6" lengthAdjust="spacingAndGlyphs">PARCEL</tspan><tspan x="756.1" textLength="11.4" lengthAdjust="spacingAndGlyphs">-</tspan></text>
<text y="351.6" font-size="14" fill="#000" stroke="#fff" stroke-width="0.16"><tspan x="698.9" textLength="69.5" lengthAdjust="spacingAndGlyphs">CAPE:1475</tspan></text>
<text y="367.3" font-size="14" fill="#000" stroke="#fff" stroke-width="0.16"><tspan x="700.7" textLength="50.2" lengthAdjust="spacingAndGlyphs">CINH:14</tspan></text>
<text y="383.0" font-size="14" fill="#000" stroke="#fff" stroke-width="0.16"><tspan x="700.7" textLength="51.3" lengthAdjust="spacingAndGlyphs">LCL:955</tspan></text>
<text y="398.6" font-size="14" fill="#000" stroke="#fff" stroke-width="0.16"><tspan x="700.7" textLength="49.4" lengthAdjust="spacingAndGlyphs">CAP:0.0</tspan></text>
<text y="414.3" font-size="14" fill="#000" stroke="#fff" stroke-width="0.16"><tspan x="700.7" textLength="51.5" lengthAdjust="spacingAndGlyphs">LFC:918</tspan></text>
<text y="430.0" font-size="14" fill="#000" stroke="#fff" stroke-width="0.16"><tspan x="701.6" textLength="43.7" lengthAdjust="spacingAndGlyphs">EL:160</tspan></text>
<text y="445.7" font-size="14" fill="#000" stroke="#fff" stroke-width="0.16"><tspan x="700.7" textLength="52.1" lengthAdjust="spacingAndGlyphs">MPL:101</tspan></text>
<text y="461.4" font-size="14" fill="#000" stroke="#fff" stroke-width="0.16"><tspan x="700.0" textLength="11.4" lengthAdjust="spacingAndGlyphs">-</tspan><tspan x="711.7" textLength="29.6" lengthAdjust="spacingAndGlyphs">WIND</tspan><tspan x="740.3" textLength="11.4" lengthAdjust="spacingAndGlyphs">-</tspan></text>
<text y="477.1" font-size="14" fill="#000" stroke="#fff" stroke-width="0.16"><tspan x="703.7" textLength="24.2" lengthAdjust="spacingAndGlyphs">NOT</tspan></text>
<text y="492.8" font-size="14" fill="#000" stroke="#fff" stroke-width="0.16"><tspan x="702.3" textLength="32.6" lengthAdjust="spacingAndGlyphs">AVAIL</tspan></text>
</svg>
</body></html>
